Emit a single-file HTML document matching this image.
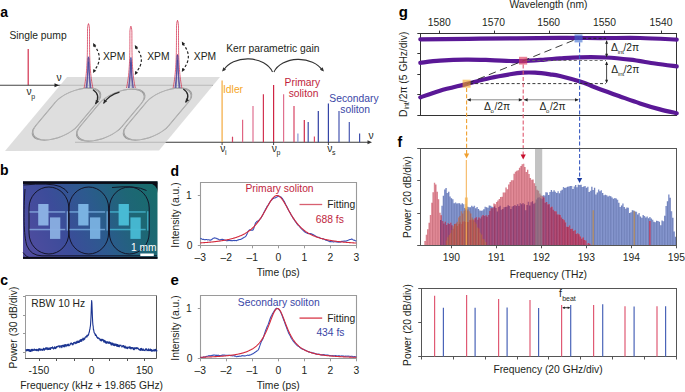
<!DOCTYPE html>
<html><head><meta charset="utf-8"><style>
html,body{margin:0;padding:0;background:#fff;}
svg{display:block;font-family:"Liberation Sans",sans-serif;}
</style></head><body>
<svg width="685" height="392" viewBox="0 0 685 392">
<rect width="685" height="392" fill="#fff"/>
<text x="0.3" y="16.6" font-size="14" fill="#000" text-anchor="start" font-weight="bold" >a</text>
<text x="9.4" y="38.8" font-size="10.3" fill="#231f20" text-anchor="start" font-weight="normal" >Single pump</text>
<line x1="28.2" y1="49" x2="28.2" y2="85.2" stroke="#d22f4d" stroke-width="1.2" />
<line x1="0" y1="85.2" x2="213" y2="85.2" stroke="#444" stroke-width="1.1" />
<polygon points="59,85.2 54.5,87.23 54.5,83.17" fill="#222"/>
<text x="56.6" y="81.3" font-size="10.3" fill="#231f20" text-anchor="start" font-weight="normal" >ν</text>
<text x="26.6" y="94.6" font-size="10.3" fill="#231f20" text-anchor="start" font-weight="normal" >ν</text>
<text x="31.3" y="98.5" font-size="7" fill="#231f20" text-anchor="start" font-weight="normal" >p</text>
<line x1="75" y1="142.2" x2="369" y2="142.2" stroke="#3a3a3a" stroke-width="1.1" />
<polygon points="67,77 220,77 159,150.6 5,151" fill="#d6d6d6" fill-opacity="0.8"/>
<path d="M9.5,25.5 L9.5,48.5 A21 14.5 0 0 0 51.5,48.5 L51.5,25.5 A21 14.5 0 0 0 9.5,25.5 Z" transform="matrix(1,0,-0.838,1,67,77)" fill="none" stroke="#8c8c8c" stroke-width="1.25"/>
<path d="M9.5,25.5 L9.5,48.5 A21 14.5 0 0 0 51.5,48.5 L51.5,25.5 A21 14.5 0 0 0 9.5,25.5 Z" transform="matrix(1,0,-0.838,1,67,77)" fill="none" stroke="#d8d8d8" stroke-width="0.4"/>
<path d="M54.5,26.5 L54.5,49.5 A21 14.5 0 0 0 96.5,49.5 L96.5,26.5 A21 14.5 0 0 0 54.5,26.5 Z" transform="matrix(1,0,-0.838,1,67,77)" fill="none" stroke="#8c8c8c" stroke-width="1.25"/>
<path d="M54.5,26.5 L54.5,49.5 A21 14.5 0 0 0 96.5,49.5 L96.5,26.5 A21 14.5 0 0 0 54.5,26.5 Z" transform="matrix(1,0,-0.838,1,67,77)" fill="none" stroke="#d8d8d8" stroke-width="0.4"/>
<path d="M100.5,25.5 L100.5,48.5 A21 14.5 0 0 0 142.5,48.5 L142.5,25.5 A21 14.5 0 0 0 100.5,25.5 Z" transform="matrix(1,0,-0.838,1,67,77)" fill="none" stroke="#8c8c8c" stroke-width="1.25"/>
<path d="M100.5,25.5 L100.5,48.5 A21 14.5 0 0 0 142.5,48.5 L142.5,25.5 A21 14.5 0 0 0 100.5,25.5 Z" transform="matrix(1,0,-0.838,1,67,77)" fill="none" stroke="#d8d8d8" stroke-width="0.4"/>
<path d="M84.1,88 L84.43,86.39 L84.73,84.78 L85.01,83.17 L85.27,81.56 L85.51,79.95 L85.73,78.34 L85.92,76.73 L86.11,75.12 L86.27,73.51 L86.42,71.9 L86.56,70.29 L86.68,68.68 L86.79,67.07 L86.89,65.46 L86.98,63.85 L87.06,62.24 L87.13,60.63 L87.19,59.02 L87.24,57.41 L87.29,55.8 L87.33,54.19 L87.36,52.58 L87.39,50.97 L87.41,49.36 L87.43,47.75 L87.45,46.14 L87.46,44.53 L87.47,42.92 L87.48,41.31 L87.49,39.7 L87.49,38.09 L87.49,36.48 L87.5,34.87 L87.5,33.26 L87.5,31.65 L87.5,30.04 L87.55,28.43 L87.73,26.82 L87.95,25.21 L88.5,23.6 L88.5,23.6 L89.05,25.21 L89.27,26.82 L89.45,28.43 L89.5,30.04 L89.5,31.65 L89.5,33.26 L89.5,34.87 L89.51,36.48 L89.51,38.09 L89.51,39.7 L89.52,41.31 L89.53,42.92 L89.54,44.53 L89.55,46.14 L89.57,47.75 L89.59,49.36 L89.61,50.97 L89.64,52.58 L89.67,54.19 L89.71,55.8 L89.76,57.41 L89.81,59.02 L89.87,60.63 L89.94,62.24 L90.02,63.85 L90.11,65.46 L90.21,67.07 L90.32,68.68 L90.44,70.29 L90.58,71.9 L90.73,73.51 L90.89,75.12 L91.08,76.73 L91.27,78.34 L91.49,79.95 L91.73,81.56 L91.99,83.17 L92.27,84.78 L92.57,86.39 L92.9,88" stroke="#d22f4d" stroke-width="0.75" fill="none" stroke-linejoin="round"/>
<path d="M86.2,88 L86.32,87.24 L86.44,86.48 L86.55,85.72 L86.66,84.96 L86.77,84.2 L86.87,83.44 L86.96,82.68 L87.06,81.92 L87.14,81.16 L87.23,80.4 L87.3,79.64 L87.38,78.88 L87.45,78.12 L87.52,77.36 L87.58,76.6 L87.64,75.84 L87.7,75.08 L87.75,74.32 L87.8,73.56 L87.85,72.8 L87.89,72.04 L87.93,71.28 L87.96,70.52 L88,69.76 L88.03,69 L88.06,68.24 L88.08,67.48 L88.1,66.72 L88.12,65.96 L88.14,65.2 L88.15,64.44 L88.16,63.68 L88.17,62.92 L88.18,62.16 L88.19,61.4 L88.19,60.64 L88.21,59.88 L88.27,59.12 L88.34,58.36 L88.5,57.6 L88.5,57.6 L88.66,58.36 L88.73,59.12 L88.79,59.88 L88.81,60.64 L88.81,61.4 L88.82,62.16 L88.83,62.92 L88.84,63.68 L88.85,64.44 L88.86,65.2 L88.88,65.96 L88.9,66.72 L88.92,67.48 L88.94,68.24 L88.97,69 L89,69.76 L89.04,70.52 L89.07,71.28 L89.11,72.04 L89.15,72.8 L89.2,73.56 L89.25,74.32 L89.3,75.08 L89.36,75.84 L89.42,76.6 L89.48,77.36 L89.55,78.12 L89.62,78.88 L89.7,79.64 L89.77,80.4 L89.86,81.16 L89.94,81.92 L90.04,82.68 L90.13,83.44 L90.23,84.2 L90.34,84.96 L90.45,85.72 L90.56,86.48 L90.68,87.24 L90.8,88" stroke="#d22f4d" stroke-width="0.55" fill="none" stroke-linejoin="round"/>
<path d="M86.1,88 L86.2,87.22 L86.3,86.44 L86.4,85.66 L86.49,84.88 L86.58,84.1 L86.67,83.32 L86.76,82.54 L86.84,81.76 L86.92,80.98 L86.99,80.2 L87.06,79.42 L87.13,78.64 L87.2,77.86 L87.26,77.08 L87.32,76.3 L87.38,75.52 L87.44,74.74 L87.49,73.96 L87.54,73.18 L87.59,72.4 L87.63,71.62 L87.67,70.84 L87.71,70.06 L87.75,69.28 L87.78,68.5 L87.81,67.72 L87.84,66.94 L87.87,66.16 L87.89,65.38 L87.91,64.6 L87.93,63.82 L87.94,63.04 L87.96,62.26 L87.97,61.48 L87.98,60.7 L87.99,59.92 L88.02,59.14 L88.11,58.36 L88.23,57.58 L88.5,56.8 L88.5,56.8 L88.77,57.58 L88.89,58.36 L88.98,59.14 L89.01,59.92 L89.02,60.7 L89.03,61.48 L89.04,62.26 L89.06,63.04 L89.07,63.82 L89.09,64.6 L89.11,65.38 L89.13,66.16 L89.16,66.94 L89.19,67.72 L89.22,68.5 L89.25,69.28 L89.29,70.06 L89.33,70.84 L89.37,71.62 L89.41,72.4 L89.46,73.18 L89.51,73.96 L89.56,74.74 L89.62,75.52 L89.68,76.3 L89.74,77.08 L89.8,77.86 L89.87,78.64 L89.94,79.42 L90.01,80.2 L90.08,80.98 L90.16,81.76 L90.24,82.54 L90.33,83.32 L90.42,84.1 L90.51,84.88 L90.6,85.66 L90.7,86.44 L90.8,87.22 L90.9,88" stroke="#2f3f9f" stroke-width="0.85" fill="none" stroke-linejoin="round"/>
<path d="M87.2,88 L87.24,87.34 L87.27,86.69 L87.31,86.03 L87.35,85.38 L87.38,84.72 L87.42,84.07 L87.45,83.41 L87.48,82.76 L87.52,82.1 L87.55,81.45 L87.58,80.8 L87.61,80.14 L87.65,79.48 L87.68,78.83 L87.71,78.17 L87.74,77.52 L87.76,76.86 L87.79,76.21 L87.82,75.55 L87.85,74.9 L87.87,74.25 L87.9,73.59 L87.92,72.94 L87.95,72.28 L87.97,71.62 L87.99,70.97 L88.01,70.31 L88.04,69.66 L88.06,69 L88.08,68.35 L88.09,67.69 L88.11,67.04 L88.13,66.38 L88.14,65.73 L88.16,65.08 L88.17,64.42 L88.19,63.77 L88.26,63.11 L88.33,62.45 L88.5,61.8 L88.5,61.8 L88.67,62.45 L88.74,63.11 L88.81,63.77 L88.83,64.42 L88.84,65.08 L88.86,65.73 L88.87,66.38 L88.89,67.04 L88.91,67.69 L88.92,68.35 L88.94,69 L88.96,69.66 L88.99,70.31 L89.01,70.97 L89.03,71.62 L89.05,72.28 L89.08,72.94 L89.1,73.59 L89.13,74.25 L89.15,74.9 L89.18,75.55 L89.21,76.21 L89.24,76.86 L89.26,77.52 L89.29,78.17 L89.32,78.83 L89.35,79.48 L89.39,80.14 L89.42,80.8 L89.45,81.45 L89.48,82.1 L89.52,82.76 L89.55,83.41 L89.58,84.07 L89.62,84.72 L89.65,85.38 L89.69,86.03 L89.73,86.69 L89.76,87.34 L89.8,88" stroke="#2f3f9f" stroke-width="0.6" fill="none" stroke-linejoin="round"/>
<path d="M126.5,88 L126.83,86.45 L127.13,84.91 L127.41,83.36 L127.67,81.82 L127.91,80.28 L128.13,78.73 L128.32,77.19 L128.51,75.64 L128.67,74.09 L128.82,72.55 L128.96,71 L129.08,69.46 L129.19,67.91 L129.29,66.37 L129.38,64.83 L129.46,63.28 L129.53,61.73 L129.59,60.19 L129.64,58.64 L129.69,57.1 L129.73,55.55 L129.76,54.01 L129.79,52.46 L129.81,50.92 L129.83,49.38 L129.85,47.83 L129.86,46.28 L129.87,44.74 L129.88,43.19 L129.89,41.65 L129.89,40.1 L129.89,38.56 L129.9,37.02 L129.9,35.47 L129.9,33.92 L129.9,32.38 L129.95,30.84 L130.13,29.29 L130.35,27.74 L130.9,26.2 L130.9,26.2 L131.45,27.74 L131.67,29.29 L131.85,30.84 L131.9,32.38 L131.9,33.92 L131.9,35.47 L131.9,37.02 L131.91,38.56 L131.91,40.1 L131.91,41.65 L131.92,43.19 L131.93,44.74 L131.94,46.28 L131.95,47.83 L131.97,49.38 L131.99,50.92 L132.01,52.46 L132.04,54.01 L132.07,55.55 L132.11,57.1 L132.16,58.64 L132.21,60.19 L132.27,61.73 L132.34,63.28 L132.42,64.83 L132.51,66.37 L132.61,67.91 L132.72,69.46 L132.84,71 L132.98,72.55 L133.13,74.09 L133.29,75.64 L133.48,77.19 L133.67,78.73 L133.89,80.28 L134.13,81.82 L134.39,83.36 L134.67,84.91 L134.97,86.45 L135.3,88" stroke="#d22f4d" stroke-width="0.75" fill="none" stroke-linejoin="round"/>
<path d="M128.6,88 L128.72,87.31 L128.84,86.61 L128.95,85.91 L129.06,85.22 L129.17,84.53 L129.27,83.83 L129.36,83.13 L129.46,82.44 L129.54,81.75 L129.63,81.05 L129.7,80.36 L129.78,79.66 L129.85,78.97 L129.92,78.27 L129.98,77.58 L130.04,76.88 L130.1,76.19 L130.15,75.49 L130.2,74.8 L130.25,74.1 L130.29,73.41 L130.33,72.71 L130.36,72.02 L130.4,71.32 L130.43,70.62 L130.46,69.93 L130.48,69.23 L130.5,68.54 L130.52,67.84 L130.54,67.15 L130.55,66.45 L130.56,65.76 L130.57,65.06 L130.58,64.37 L130.59,63.68 L130.59,62.98 L130.61,62.29 L130.67,61.59 L130.74,60.9 L130.9,60.2 L130.9,60.2 L131.06,60.9 L131.13,61.59 L131.19,62.29 L131.21,62.98 L131.21,63.68 L131.22,64.37 L131.23,65.06 L131.24,65.76 L131.25,66.45 L131.26,67.15 L131.28,67.84 L131.3,68.54 L131.32,69.23 L131.34,69.93 L131.37,70.62 L131.4,71.32 L131.44,72.02 L131.47,72.71 L131.51,73.41 L131.55,74.1 L131.6,74.8 L131.65,75.49 L131.7,76.19 L131.76,76.88 L131.82,77.58 L131.88,78.27 L131.95,78.97 L132.02,79.66 L132.1,80.36 L132.17,81.05 L132.26,81.75 L132.34,82.44 L132.44,83.13 L132.53,83.83 L132.63,84.53 L132.74,85.22 L132.85,85.91 L132.96,86.61 L133.08,87.31 L133.2,88" stroke="#d22f4d" stroke-width="0.55" fill="none" stroke-linejoin="round"/>
<path d="M128.5,88 L128.6,87.24 L128.7,86.47 L128.8,85.71 L128.89,84.95 L128.98,84.19 L129.07,83.42 L129.16,82.66 L129.24,81.9 L129.32,81.14 L129.39,80.38 L129.46,79.61 L129.53,78.85 L129.6,78.09 L129.66,77.33 L129.72,76.56 L129.78,75.8 L129.84,75.04 L129.89,74.28 L129.94,73.51 L129.99,72.75 L130.03,71.99 L130.07,71.22 L130.11,70.46 L130.15,69.7 L130.18,68.94 L130.21,68.17 L130.24,67.41 L130.27,66.65 L130.29,65.89 L130.31,65.12 L130.33,64.36 L130.34,63.6 L130.36,62.84 L130.37,62.08 L130.38,61.31 L130.39,60.55 L130.42,59.79 L130.51,59.02 L130.63,58.26 L130.9,57.5 L130.9,57.5 L131.17,58.26 L131.29,59.02 L131.38,59.79 L131.41,60.55 L131.42,61.31 L131.43,62.08 L131.44,62.84 L131.46,63.6 L131.47,64.36 L131.49,65.12 L131.51,65.89 L131.53,66.65 L131.56,67.41 L131.59,68.17 L131.62,68.94 L131.65,69.7 L131.69,70.46 L131.73,71.22 L131.77,71.99 L131.81,72.75 L131.86,73.51 L131.91,74.28 L131.96,75.04 L132.02,75.8 L132.08,76.56 L132.14,77.33 L132.2,78.09 L132.27,78.85 L132.34,79.61 L132.41,80.38 L132.48,81.14 L132.56,81.9 L132.64,82.66 L132.73,83.42 L132.82,84.19 L132.91,84.95 L133,85.71 L133.1,86.47 L133.2,87.24 L133.3,88" stroke="#2f3f9f" stroke-width="0.85" fill="none" stroke-linejoin="round"/>
<path d="M129.6,88 L129.64,87.36 L129.67,86.72 L129.71,86.09 L129.75,85.45 L129.78,84.81 L129.82,84.17 L129.85,83.54 L129.88,82.9 L129.92,82.26 L129.95,81.62 L129.98,80.99 L130.01,80.35 L130.05,79.71 L130.08,79.08 L130.11,78.44 L130.14,77.8 L130.16,77.16 L130.19,76.53 L130.22,75.89 L130.25,75.25 L130.27,74.61 L130.3,73.97 L130.32,73.34 L130.35,72.7 L130.37,72.06 L130.39,71.42 L130.41,70.79 L130.44,70.15 L130.46,69.51 L130.47,68.88 L130.49,68.24 L130.51,67.6 L130.53,66.96 L130.54,66.33 L130.56,65.69 L130.57,65.05 L130.59,64.41 L130.66,63.77 L130.73,63.14 L130.9,62.5 L130.9,62.5 L131.07,63.14 L131.14,63.77 L131.21,64.41 L131.23,65.05 L131.24,65.69 L131.26,66.33 L131.27,66.96 L131.29,67.6 L131.31,68.24 L131.33,68.88 L131.34,69.51 L131.36,70.15 L131.39,70.79 L131.41,71.42 L131.43,72.06 L131.45,72.7 L131.48,73.34 L131.5,73.97 L131.53,74.61 L131.55,75.25 L131.58,75.89 L131.61,76.53 L131.64,77.16 L131.66,77.8 L131.69,78.44 L131.72,79.08 L131.75,79.71 L131.79,80.35 L131.82,80.99 L131.85,81.62 L131.88,82.26 L131.92,82.9 L131.95,83.54 L131.98,84.17 L132.02,84.81 L132.05,85.45 L132.09,86.09 L132.13,86.72 L132.16,87.36 L132.2,88" stroke="#2f3f9f" stroke-width="0.6" fill="none" stroke-linejoin="round"/>
<path d="M173.1,88 L173.43,86.31 L173.73,84.61 L174.01,82.92 L174.27,81.23 L174.51,79.54 L174.73,77.84 L174.92,76.15 L175.11,74.46 L175.27,72.77 L175.42,71.08 L175.56,69.38 L175.68,67.69 L175.79,66 L175.89,64.31 L175.98,62.61 L176.06,60.92 L176.13,59.23 L176.19,57.53 L176.24,55.84 L176.29,54.15 L176.33,52.46 L176.36,50.77 L176.39,49.07 L176.41,47.38 L176.43,45.69 L176.45,44 L176.46,42.3 L176.47,40.61 L176.48,38.92 L176.49,37.23 L176.49,35.53 L176.49,33.84 L176.5,32.15 L176.5,30.46 L176.5,28.76 L176.5,27.07 L176.55,25.38 L176.73,23.69 L176.95,21.99 L177.5,20.3 L177.5,20.3 L178.05,21.99 L178.27,23.69 L178.45,25.38 L178.5,27.07 L178.5,28.76 L178.5,30.46 L178.5,32.15 L178.51,33.84 L178.51,35.53 L178.51,37.23 L178.52,38.92 L178.53,40.61 L178.54,42.3 L178.55,44 L178.57,45.69 L178.59,47.38 L178.61,49.07 L178.64,50.77 L178.67,52.46 L178.71,54.15 L178.76,55.84 L178.81,57.53 L178.87,59.23 L178.94,60.92 L179.02,62.61 L179.11,64.31 L179.21,66 L179.32,67.69 L179.44,69.38 L179.58,71.08 L179.73,72.77 L179.89,74.46 L180.08,76.15 L180.27,77.84 L180.49,79.54 L180.73,81.23 L180.99,82.92 L181.27,84.61 L181.57,86.31 L181.9,88" stroke="#d22f4d" stroke-width="0.75" fill="none" stroke-linejoin="round"/>
<path d="M175.2,88 L175.32,87.16 L175.44,86.31 L175.55,85.47 L175.66,84.63 L175.77,83.79 L175.87,82.94 L175.96,82.1 L176.06,81.26 L176.14,80.42 L176.23,79.58 L176.3,78.73 L176.38,77.89 L176.45,77.05 L176.52,76.2 L176.58,75.36 L176.64,74.52 L176.7,73.68 L176.75,72.84 L176.8,71.99 L176.85,71.15 L176.89,70.31 L176.93,69.47 L176.96,68.62 L177,67.78 L177.03,66.94 L177.06,66.09 L177.08,65.25 L177.1,64.41 L177.12,63.57 L177.14,62.72 L177.15,61.88 L177.16,61.04 L177.17,60.2 L177.18,59.35 L177.19,58.51 L177.19,57.67 L177.21,56.83 L177.27,55.98 L177.34,55.14 L177.5,54.3 L177.5,54.3 L177.66,55.14 L177.73,55.98 L177.79,56.83 L177.81,57.67 L177.81,58.51 L177.82,59.35 L177.83,60.2 L177.84,61.04 L177.85,61.88 L177.86,62.72 L177.88,63.57 L177.9,64.41 L177.92,65.25 L177.94,66.09 L177.97,66.94 L178,67.78 L178.04,68.62 L178.07,69.47 L178.11,70.31 L178.15,71.15 L178.2,71.99 L178.25,72.84 L178.3,73.68 L178.36,74.52 L178.42,75.36 L178.48,76.2 L178.55,77.05 L178.62,77.89 L178.7,78.73 L178.77,79.58 L178.86,80.42 L178.94,81.26 L179.04,82.1 L179.13,82.94 L179.23,83.79 L179.34,84.63 L179.45,85.47 L179.56,86.31 L179.68,87.16 L179.8,88" stroke="#d22f4d" stroke-width="0.55" fill="none" stroke-linejoin="round"/>
<path d="M175.1,88 L175.2,87.17 L175.3,86.34 L175.4,85.51 L175.49,84.68 L175.58,83.85 L175.67,83.02 L175.76,82.19 L175.84,81.36 L175.92,80.53 L175.99,79.7 L176.06,78.87 L176.13,78.04 L176.2,77.21 L176.26,76.38 L176.32,75.55 L176.38,74.72 L176.44,73.89 L176.49,73.06 L176.54,72.23 L176.59,71.4 L176.63,70.57 L176.67,69.74 L176.71,68.91 L176.75,68.08 L176.78,67.25 L176.81,66.42 L176.84,65.59 L176.87,64.76 L176.89,63.93 L176.91,63.1 L176.93,62.27 L176.94,61.44 L176.96,60.61 L176.97,59.78 L176.98,58.95 L176.99,58.12 L177.02,57.29 L177.11,56.46 L177.23,55.63 L177.5,54.8 L177.5,54.8 L177.77,55.63 L177.89,56.46 L177.98,57.29 L178.01,58.12 L178.02,58.95 L178.03,59.78 L178.04,60.61 L178.06,61.44 L178.07,62.27 L178.09,63.1 L178.11,63.93 L178.13,64.76 L178.16,65.59 L178.19,66.42 L178.22,67.25 L178.25,68.08 L178.29,68.91 L178.33,69.74 L178.37,70.57 L178.41,71.4 L178.46,72.23 L178.51,73.06 L178.56,73.89 L178.62,74.72 L178.68,75.55 L178.74,76.38 L178.8,77.21 L178.87,78.04 L178.94,78.87 L179.01,79.7 L179.08,80.53 L179.16,81.36 L179.24,82.19 L179.33,83.02 L179.42,83.85 L179.51,84.68 L179.6,85.51 L179.7,86.34 L179.8,87.17 L179.9,88" stroke="#2f3f9f" stroke-width="0.85" fill="none" stroke-linejoin="round"/>
<path d="M176.2,88 L176.24,87.3 L176.27,86.59 L176.31,85.88 L176.35,85.18 L176.38,84.47 L176.42,83.77 L176.45,83.06 L176.48,82.36 L176.52,81.66 L176.55,80.95 L176.58,80.25 L176.61,79.54 L176.65,78.84 L176.68,78.13 L176.71,77.42 L176.74,76.72 L176.76,76.02 L176.79,75.31 L176.82,74.61 L176.85,73.9 L176.87,73.19 L176.9,72.49 L176.92,71.78 L176.95,71.08 L176.97,70.38 L176.99,69.67 L177.01,68.97 L177.04,68.26 L177.06,67.55 L177.07,66.85 L177.09,66.14 L177.11,65.44 L177.13,64.73 L177.14,64.03 L177.16,63.32 L177.17,62.62 L177.19,61.91 L177.26,61.21 L177.33,60.5 L177.5,59.8 L177.5,59.8 L177.67,60.5 L177.74,61.21 L177.81,61.91 L177.83,62.62 L177.84,63.32 L177.86,64.03 L177.87,64.73 L177.89,65.44 L177.91,66.14 L177.93,66.85 L177.94,67.55 L177.96,68.26 L177.99,68.97 L178.01,69.67 L178.03,70.38 L178.05,71.08 L178.08,71.78 L178.1,72.49 L178.13,73.19 L178.15,73.9 L178.18,74.61 L178.21,75.31 L178.24,76.02 L178.26,76.72 L178.29,77.42 L178.32,78.13 L178.35,78.84 L178.39,79.54 L178.42,80.25 L178.45,80.95 L178.48,81.66 L178.52,82.36 L178.55,83.06 L178.58,83.77 L178.62,84.47 L178.65,85.18 L178.69,85.88 L178.73,86.59 L178.76,87.3 L178.8,88" stroke="#2f3f9f" stroke-width="0.6" fill="none" stroke-linejoin="round"/>
<path d="M93.8,45 Q104.8,58.0 93.8,71" fill="none" stroke="#222" stroke-width="1.2" stroke-dasharray="2.6,2"/>
<polygon points="93,43 96.31,45.21 93.39,46.96" fill="#222"/>
<polygon points="93,73 93.39,69.04 96.31,70.79" fill="#222"/>
<path d="M135.6,47 Q147.1,60.0 135.6,73" fill="none" stroke="#222" stroke-width="1.2" stroke-dasharray="2.6,2"/>
<polygon points="134.8,45 138.11,47.21 135.19,48.96" fill="#222"/>
<polygon points="134.8,75 135.19,71.04 138.11,72.79" fill="#222"/>
<path d="M182.6,43.5 Q194.1,56.75 182.6,70" fill="none" stroke="#222" stroke-width="1.2" stroke-dasharray="2.6,2"/>
<polygon points="181.8,41.5 185.11,43.71 182.19,45.46" fill="#222"/>
<polygon points="181.8,72 182.19,68.04 185.11,69.79" fill="#222"/>
<text x="103" y="59.5" font-size="10.3" fill="#231f20" text-anchor="start" font-weight="normal" >XPM</text>
<text x="147.2" y="59.5" font-size="10.3" fill="#231f20" text-anchor="start" font-weight="normal" >XPM</text>
<text x="193.8" y="59.5" font-size="10.3" fill="#231f20" text-anchor="start" font-weight="normal" >XPM</text>
<path d="M93,89.8 Q101,95 95.5,104" fill="none" stroke="#2a2a2a" stroke-width="1.3"/>
<polygon points="95.5,104 95.86,99.77 99.1,101.75" fill="#2a2a2a"/>
<path d="M119.5,92.2 Q109,95 103.5,103.5" fill="none" stroke="#2a2a2a" stroke-width="1.3"/>
<polygon points="103.5,103.5 103.97,99.28 107.16,101.34" fill="#2a2a2a"/>
<path d="M183.3,89 Q191,94 185.6,102.5" fill="none" stroke="#2a2a2a" stroke-width="1.3"/>
<polygon points="185.6,102.5 186.03,98.27 189.24,100.31" fill="#2a2a2a"/>
<path d="M272.5,72 A26 18.5 0 0 0 223.5,70.5" fill="none" stroke="#333" stroke-width="1.1"/>
<polygon points="222,71.5 223.36,67.33 226.02,69.75" fill="#333"/>
<path d="M274,72 A26 18.5 0 0 1 322.5,70.5" fill="none" stroke="#333" stroke-width="1.1"/>
<polygon points="324,71.5 319.98,69.75 322.64,67.33" fill="#333"/>
<text x="226.2" y="52" font-size="10.3" fill="#231f20" text-anchor="start" font-weight="normal" >Kerr parametric gain</text>
<line x1="222.1" y1="80.4" x2="222.1" y2="142.2" stroke="#f4b04c" stroke-width="1.3" />
<line x1="232.5" y1="136.7" x2="232.5" y2="142.2" stroke="#d44462" stroke-width="1.2" />
<line x1="242.6" y1="119.8" x2="242.6" y2="142.2" stroke="#e06482" stroke-width="1.2" />
<line x1="253" y1="106" x2="253" y2="142.2" stroke="#e07090" stroke-width="1.2" />
<line x1="263.4" y1="94.3" x2="263.4" y2="142.2" stroke="#d23452" stroke-width="1.2" />
<line x1="273.6" y1="84.9" x2="273.6" y2="142.2" stroke="#cf2444" stroke-width="1.2" />
<line x1="283.6" y1="94.3" x2="283.6" y2="142.2" stroke="#e0708e" stroke-width="1.2" />
<line x1="294" y1="106" x2="294" y2="142.2" stroke="#d84464" stroke-width="1.2" />
<line x1="304.3" y1="120" x2="304.3" y2="142.2" stroke="#d02a4a" stroke-width="1.2" />
<line x1="314.4" y1="136.4" x2="314.4" y2="142.2" stroke="#e04a66" stroke-width="1.2" />
<line x1="297.9" y1="133.4" x2="297.9" y2="142.2" stroke="#8a98d4" stroke-width="1.2" />
<line x1="308.2" y1="122" x2="308.2" y2="142.2" stroke="#3e4eaa" stroke-width="1.2" />
<line x1="318.3" y1="111" x2="318.3" y2="142.2" stroke="#2e3ea2" stroke-width="1.2" />
<line x1="328.4" y1="103.6" x2="328.4" y2="142.2" stroke="#3444a6" stroke-width="1.2" />
<line x1="339" y1="111" x2="339" y2="142.2" stroke="#4656b0" stroke-width="1.2" />
<line x1="349.3" y1="122" x2="349.3" y2="142.2" stroke="#4a5ab2" stroke-width="1.2" />
<line x1="359.6" y1="133.4" x2="359.6" y2="142.2" stroke="#3e4eaa" stroke-width="1.2" />
<line x1="222.1" y1="142.2" x2="222.1" y2="145" stroke="#333" stroke-width="0.9" />
<line x1="273.6" y1="142.2" x2="273.6" y2="145" stroke="#333" stroke-width="0.9" />
<line x1="328.4" y1="142.2" x2="328.4" y2="145" stroke="#333" stroke-width="0.9" />
<polygon points="372,142.2 367.5,144.22 367.5,140.17" fill="#333"/>
<text x="368.6" y="138.8" font-size="10.3" fill="#231f20" text-anchor="start" font-weight="normal" >ν</text>
<text x="220.2" y="152.2" font-size="10.3" fill="#231f20" text-anchor="start" font-weight="normal" >ν</text>
<text x="224.9" y="155" font-size="7" fill="#231f20" text-anchor="start" font-weight="normal" >i</text>
<text x="271.8" y="152.2" font-size="10.3" fill="#231f20" text-anchor="start" font-weight="normal" >ν</text>
<text x="276.5" y="155" font-size="7" fill="#231f20" text-anchor="start" font-weight="normal" >p</text>
<text x="327.2" y="152.2" font-size="10.3" fill="#231f20" text-anchor="start" font-weight="normal" >ν</text>
<text x="331.9" y="155" font-size="7" fill="#231f20" text-anchor="start" font-weight="normal" >s</text>
<text x="223" y="92.6" font-size="10.3" fill="#f5a623" text-anchor="start" font-weight="normal" >Idler</text>
<text x="284.6" y="85.7" font-size="10.3" fill="#c01e3c" text-anchor="start" font-weight="normal" >Primary</text>
<text x="303.6" y="96.8" font-size="10.3" fill="#c01e3c" text-anchor="middle" font-weight="normal" >soliton</text>
<text x="329.3" y="101.7" font-size="10.3" fill="#3a46a6" text-anchor="start" font-weight="normal" >Secondary</text>
<text x="355.2" y="113.2" font-size="10.3" fill="#3a46a6" text-anchor="middle" font-weight="normal" >soliton</text>
<text x="0" y="175.3" font-size="14" fill="#000" text-anchor="start" font-weight="bold" >b</text>
<defs><linearGradient id="gb" gradientUnits="userSpaceOnUse" x1="23" y1="250" x2="157" y2="195">
<stop offset="0" stop-color="#524ca0"/><stop offset="0.3" stop-color="#3c4c9a"/><stop offset="0.55" stop-color="#2c5a8e"/><stop offset="0.8" stop-color="#1e6676"/><stop offset="1" stop-color="#186c6c"/></linearGradient></defs>
<rect x="23" y="181.5" width="134.5" height="77" fill="url(#gb)"/>
<rect x="23" y="181.3" width="134.5" height="2.6" fill="#0a0a14"/>
<rect x="23" y="256.9" width="134.5" height="2" fill="#0a0a14"/>
<path d="M148,183.5 L157.5,183.5 L157.5,193 Q157.5,183.5 148,183.5 Z" fill="#0a0a14"/>
<path d="M23.5,185 Q50,182.5 60,186.5 Q66,189 68,193 M25,189 C23.5,210 23.5,236 27,246 Q31,255.6 42,255.8 L157,255.8 M23,252.5 Q26,257 30,258 M112,187.5 Q136,185 146.5,190.5" fill="none" stroke="#101020" stroke-width="0.9"/>
<rect x="29" y="187" width="39.8" height="67" rx="19.9" ry="21" fill="none" stroke="#141428" stroke-width="1"/>
<rect x="29.5" y="211.2" width="35.8" height="1.5" fill="#8aafe2" fill-opacity="0.8"/>
<rect x="29.5" y="228.8" width="35.8" height="1.5" fill="#8aafe2" fill-opacity="0.8"/>
<rect x="66.7" y="211.2" width="1.3" height="19.4" fill="#8aafe2" fill-opacity="0.8"/>
<rect x="38.2" y="204" width="10.3" height="21.5" fill="#8aafe2"/>
<rect x="50" y="217.4" width="10.3" height="21.5" fill="#8aafe2" fill-opacity="0.95"/>
<rect x="69" y="187" width="39.6" height="67" rx="19.8" ry="21" fill="none" stroke="#141428" stroke-width="1"/>
<rect x="69.5" y="211.2" width="35.6" height="1.5" fill="#7ab2e2" fill-opacity="0.8"/>
<rect x="69.5" y="228.8" width="35.6" height="1.5" fill="#7ab2e2" fill-opacity="0.8"/>
<rect x="106.5" y="211.2" width="1.3" height="19.4" fill="#7ab2e2" fill-opacity="0.8"/>
<rect x="78.2" y="204" width="10.3" height="21.5" fill="#7ab2e2"/>
<rect x="90" y="217.4" width="10.3" height="21.5" fill="#7ab2e2" fill-opacity="0.95"/>
<rect x="109.4" y="187" width="39.8" height="67" rx="19.9" ry="21" fill="none" stroke="#141428" stroke-width="1"/>
<rect x="109.9" y="211.2" width="35.8" height="1.5" fill="#48bad4" fill-opacity="0.8"/>
<rect x="109.9" y="228.8" width="35.8" height="1.5" fill="#48bad4" fill-opacity="0.8"/>
<rect x="147.1" y="211.2" width="1.3" height="19.4" fill="#48bad4" fill-opacity="0.8"/>
<rect x="118.6" y="204" width="10.3" height="21.5" fill="#48bad4"/>
<rect x="130.4" y="217.4" width="10.3" height="21.5" fill="#48bad4" fill-opacity="0.95"/>
<text x="131.1" y="251.4" font-size="10.2" fill="#ffffff" text-anchor="start" font-weight="normal" >1 mm</text>
<rect x="140.3" y="253.5" width="13.5" height="2.6" fill="#ffffff"/>
<text x="0.3" y="285" font-size="14" fill="#000" text-anchor="start" font-weight="bold" >c</text>
<path d="M25.5,295.5 L156.5,295.5 M25.5,295.5 L25.5,358.5" fill="none" stroke="#9a9a9a" stroke-width="1"/>
<path d="M25,358.5 L156.5,358.5 L156.5,295.5" fill="none" stroke="#555" stroke-width="1"/>
<line x1="23" y1="296.5" x2="25.5" y2="296.5" stroke="#9a9a9a" stroke-width="1" />
<line x1="23" y1="315.5" x2="25.5" y2="315.5" stroke="#9a9a9a" stroke-width="1" />
<line x1="23" y1="333.5" x2="25.5" y2="333.5" stroke="#9a9a9a" stroke-width="1" />
<line x1="23" y1="352.5" x2="25.5" y2="352.5" stroke="#9a9a9a" stroke-width="1" />
<line x1="39.5" y1="358.5" x2="39.5" y2="361" stroke="#555" stroke-width="1" />
<line x1="56.5" y1="358.5" x2="56.5" y2="361" stroke="#555" stroke-width="1" />
<line x1="74.5" y1="358.5" x2="74.5" y2="361" stroke="#555" stroke-width="1" />
<line x1="92.5" y1="358.5" x2="92.5" y2="361" stroke="#555" stroke-width="1" />
<line x1="109.5" y1="358.5" x2="109.5" y2="361" stroke="#555" stroke-width="1" />
<line x1="127.5" y1="358.5" x2="127.5" y2="361" stroke="#555" stroke-width="1" />
<line x1="144.5" y1="358.5" x2="144.5" y2="361" stroke="#555" stroke-width="1" />
<text x="38.9" y="373.5" font-size="10.3" fill="#231f20" text-anchor="middle" font-weight="normal" >-150</text>
<text x="91.7" y="373.5" font-size="10.3" fill="#231f20" text-anchor="middle" font-weight="normal" >0</text>
<text x="144.5" y="373.5" font-size="10.3" fill="#231f20" text-anchor="middle" font-weight="normal" >150</text>
<text x="20.2" y="388.8" font-size="10.3" fill="#231f20" text-anchor="start" font-weight="normal" >Frequency (kHz + 19.865 GHz)</text>
<text x="31.3" y="306.8" font-size="10.3" fill="#231f20" text-anchor="start" font-weight="normal" >RBW 10 Hz</text>
<text x="0" y="0" font-size="10.3" fill="#231f20" text-anchor="middle" font-weight="normal" transform="translate(17.2,327.5) rotate(-90)">Power (30 dB/div)</text>
<path d="M25.8,350.24 L26.05,349.81 L26.3,350.99 L26.56,349.59 L26.81,350.69 L27.06,350.26 L27.31,349.51 L27.57,350.57 L27.82,349.43 L28.07,350.36 L28.32,349.47 L28.58,349.51 L28.83,350.29 L29.08,351.24 L29.33,349.54 L29.58,349.76 L29.84,350.71 L30.09,351.46 L30.34,350.56 L30.59,350.11 L30.85,351.48 L31.1,349.23 L31.35,351.16 L31.6,349.78 L31.86,349.41 L32.11,349.33 L32.36,349.77 L32.61,350.97 L32.86,349.43 L33.12,350.37 L33.37,350.49 L33.62,349.83 L33.87,350.23 L34.13,349.05 L34.38,349.02 L34.63,349.35 L34.88,350.47 L35.14,349.84 L35.39,349.55 L35.64,350.18 L35.89,349.84 L36.14,349.45 L36.4,350.62 L36.65,350.37 L36.9,349.25 L37.15,350.02 L37.41,349.88 L37.66,350.7 L37.91,350.33 L38.16,349.25 L38.42,350.88 L38.67,348.79 L38.92,349.49 L39.17,350.28 L39.42,348.8 L39.68,349.59 L39.93,348.48 L40.18,349.97 L40.43,350.18 L40.69,349.69 L40.94,350.39 L41.19,349.02 L41.44,349.91 L41.7,349.64 L41.95,349.58 L42.2,349.26 L42.45,350.15 L42.7,350.38 L42.96,349.22 L43.21,349.65 L43.46,348.17 L43.71,349.68 L43.97,349.53 L44.22,350.33 L44.47,349.89 L44.72,348.57 L44.98,348.78 L45.23,349.43 L45.48,347.85 L45.73,348.88 L45.98,348.14 L46.24,347.99 L46.49,347.82 L46.74,349.49 L46.99,347.93 L47.25,348.18 L47.5,348.49 L47.75,349.61 L48,347.68 L48.26,348.54 L48.51,348.74 L48.76,349.51 L49.01,349.32 L49.26,349.4 L49.52,347.96 L49.77,348.25 L50.02,348.08 L50.27,349.31 L50.53,349.45 L50.78,347.48 L51.03,347.5 L51.28,347.6 L51.54,347.57 L51.79,348.13 L52.04,348.35 L52.29,347.53 L52.54,346.87 L52.8,347.83 L53.05,347.67 L53.3,348.1 L53.55,348.99 L53.81,348.32 L54.06,347.86 L54.31,348.07 L54.56,348.17 L54.82,346.63 L55.07,348.62 L55.32,348.29 L55.57,348.47 L55.82,348.25 L56.08,347.23 L56.33,347.2 L56.58,346.45 L56.83,347.68 L57.09,346.26 L57.34,346.23 L57.59,346.53 L57.84,346.37 L58.1,346.75 L58.35,346.01 L58.6,345.84 L58.85,346.15 L59.1,345.99 L59.36,346.57 L59.61,345.71 L59.86,347.7 L60.11,347.02 L60.37,345.85 L60.62,346.05 L60.87,346.23 L61.12,346.22 L61.38,345.59 L61.63,347.28 L61.88,347.57 L62.13,346.25 L62.38,346.24 L62.64,345.23 L62.89,345.22 L63.14,345.74 L63.39,345.49 L63.65,346.79 L63.9,345.13 L64.15,344.74 L64.4,346.91 L64.66,345.84 L64.91,344.86 L65.16,345.76 L65.41,344.46 L65.66,345.6 L65.92,346.62 L66.17,346.28 L66.42,345.82 L66.67,344.71 L66.93,344.9 L67.18,344.36 L67.43,345.74 L67.68,345.1 L67.94,345.63 L68.19,344.49 L68.44,344.16 L68.69,345.51 L68.94,345.85 L69.2,345.47 L69.45,345.29 L69.7,345.24 L69.95,344.99 L70.21,343.68 L70.46,344.31 L70.71,343.85 L70.96,342.99 L71.22,342.91 L71.47,343.44 L71.72,343.31 L71.97,344.28 L72.22,344.83 L72.48,343.53 L72.73,344.63 L72.98,344.67 L73.23,344.51 L73.49,343.01 L73.74,342.58 L73.99,342.51 L74.24,342.36 L74.5,342.29 L74.75,343.21 L75,343.79 L75.25,343.55 L75.5,342.6 L75.76,342.93 L76.01,343.19 L76.26,341.38 L76.51,342.67 L76.77,343.17 L77.02,342.77 L77.27,342.59 L77.52,341.84 L77.78,341.02 L78.03,342.39 L78.28,341.19 L78.53,342.21 L78.78,342.51 L79.04,341.02 L79.29,340.93 L79.54,342.13 L79.79,341.48 L80.05,340.03 L80.3,339.81 L80.55,339.75 L80.8,341.44 L81.06,341.08 L81.31,339.37 L81.56,340.88 L81.81,341.11 L82.06,340.21 L82.32,339.33 L82.57,339.67 L82.82,338.52 L83.07,338.09 L83.33,340.24 L83.58,339.31 L83.83,338.85 L84.08,339.66 L84.34,338.29 L84.59,339.17 L84.84,338.87 L85.09,337.2 L85.34,337.1 L85.6,336.99 L85.85,336.65 L86.1,337.25 L86.35,336.23 L86.61,336.35 L86.86,335.39 L87.11,336.98 L87.36,335.33 L87.62,335.25 L87.87,335.19 L88.12,335.57 L88.37,333.97 L88.62,334.67 L88.88,333.12 L89.13,332.55 L89.38,331.76 L89.63,329.62 L89.89,329.47 L90.14,327.33 L90.39,326.04 L90.64,323.13 L90.9,318.89 L91.15,312.86 L91.4,305.54 L91.65,300.54 L91.9,303.07 L92.16,310.14 L92.41,316.84 L92.66,321.71 L92.91,325.06 L93.17,326.2 L93.42,329.81 L93.67,329.58 L93.92,331.31 L94.18,332.74 L94.43,333.02 L94.68,333.05 L94.93,334.03 L95.18,334.57 L95.44,335.53 L95.69,334.27 L95.94,335.71 L96.19,335.27 L96.45,335.64 L96.7,337.1 L96.95,336.73 L97.2,337.1 L97.46,337.81 L97.71,338.4 L97.96,337.48 L98.21,338.09 L98.46,338.03 L98.72,338.23 L98.97,338.85 L99.22,338.44 L99.47,338.81 L99.73,338.84 L99.98,340.11 L100.23,339.68 L100.48,340.25 L100.74,340.56 L100.99,339.06 L101.24,339.92 L101.49,340.98 L101.74,340.86 L102,339.3 L102.25,339.39 L102.5,340.28 L102.75,339.52 L103.01,340.04 L103.26,339.76 L103.51,341.3 L103.76,341.69 L104.02,342.07 L104.27,340.4 L104.52,341.86 L104.77,341.83 L105.02,340.69 L105.28,342.57 L105.53,342.88 L105.78,341.18 L106.03,343.04 L106.29,341.81 L106.54,342.12 L106.79,343.42 L107.04,343.14 L107.3,341.62 L107.55,342.36 L107.8,342.65 L108.05,342.32 L108.3,342.06 L108.56,342.45 L108.81,343.5 L109.06,341.9 L109.31,343.27 L109.57,343.08 L109.82,342.15 L110.07,342.98 L110.32,343.77 L110.58,343.58 L110.83,342.58 L111.08,344.87 L111.33,344.48 L111.58,344.99 L111.84,342.99 L112.09,343.45 L112.34,342.98 L112.59,344.83 L112.85,343.69 L113.1,343.42 L113.35,344.2 L113.6,345.44 L113.86,345.29 L114.11,344.02 L114.36,343.82 L114.61,345.74 L114.86,344.97 L115.12,345.35 L115.37,343.95 L115.62,343.94 L115.87,345.52 L116.13,344.95 L116.38,344.17 L116.63,346.31 L116.88,345.65 L117.14,346.11 L117.39,344.45 L117.64,346.36 L117.89,344.53 L118.14,346.5 L118.4,345.58 L118.65,345.36 L118.9,345.94 L119.15,346.89 L119.41,345.37 L119.66,345.09 L119.91,346.1 L120.16,345.47 L120.42,345.21 L120.67,345.39 L120.92,345.18 L121.17,345.6 L121.42,345.92 L121.68,345.95 L121.93,347.1 L122.18,346.02 L122.43,346.58 L122.69,345.85 L122.94,346.31 L123.19,345.57 L123.44,346.18 L123.7,345.66 L123.95,347.44 L124.2,347.05 L124.45,346.23 L124.7,346.96 L124.96,348.11 L125.21,346.17 L125.46,347.93 L125.71,347.04 L125.97,347.24 L126.22,348.1 L126.47,347.09 L126.72,347.4 L126.98,347.88 L127.23,348.63 L127.48,347.14 L127.73,348.36 L127.98,348.1 L128.24,347.97 L128.49,347.46 L128.74,347.36 L128.99,346.7 L129.25,346.92 L129.5,346.82 L129.75,348.47 L130,347.34 L130.26,347.16 L130.51,347.01 L130.76,348.86 L131.01,348.97 L131.26,348.53 L131.52,347.63 L131.77,347.57 L132.02,347.73 L132.27,348.17 L132.53,347.48 L132.78,348.21 L133.03,347.81 L133.28,349.52 L133.54,349.58 L133.79,348.59 L134.04,347.9 L134.29,349.66 L134.54,348.12 L134.8,348.27 L135.05,347.45 L135.3,348.39 L135.55,348.65 L135.81,348.75 L136.06,348.06 L136.31,348.82 L136.56,347.65 L136.82,348.3 L137.07,347.91 L137.32,348.69 L137.57,347.86 L137.82,347.84 L138.08,348.55 L138.33,348.41 L138.58,349.28 L138.83,349.18 L139.09,349.74 L139.34,349.54 L139.59,349.71 L139.84,350.13 L140.1,348.98 L140.35,348.86 L140.6,350.46 L140.85,348.48 L141.1,349.89 L141.36,349.72 L141.61,348.31 L141.86,350.24 L142.11,350.4 L142.37,349.79 L142.62,350.07 L142.87,350.28 L143.12,348.69 L143.38,349.64 L143.63,349.62 L143.88,350.43 L144.13,350.38 L144.38,350.46 L144.64,349.9 L144.89,350.67 L145.14,350.19 L145.39,350.23 L145.65,349.14 L145.9,348.69 L146.15,348.96 L146.4,349.52 L146.66,348.93 L146.91,350.71 L147.16,350.06 L147.41,350.25 L147.66,350.27 L147.92,350.42 L148.17,349.98 L148.42,348.84 L148.67,350.76 L148.93,350.66 L149.18,350.09 L149.43,350.19 L149.68,350.51 L149.94,349.1 L150.19,350.73 L150.44,349.59 L150.69,349.18 L150.94,349.66 L151.2,350.79 L151.45,349.55 L151.7,350.85 L151.95,351.44 L152.21,350.3 L152.46,350.05 L152.71,350.3 L152.96,350.81 L153.22,351.02 L153.47,350.68 L153.72,350.76 L153.97,349.42 L154.22,349.6 L154.48,349.88 L154.73,351.07 L154.98,350.03 L155.23,350.68 L155.49,349.36 L155.74,349.49 L155.99,350.01 L156.24,350.99 L156.5,351.05 L156.75,351.03 L157,350.12" stroke="#1b3491" stroke-width="1.1" fill="none" stroke-linejoin="round"/>
<text x="170.5" y="175.9" font-size="14" fill="#000" text-anchor="start" font-weight="bold" >d</text>
<path d="M200.5,182.5 L356.5,182.5 L356.5,245.5 L200.5,245.5 Z" fill="none" stroke="#9a9a9a" stroke-width="1.1"/>
<line x1="197.8" y1="195.5" x2="200.5" y2="195.5" stroke="#9a9a9a" stroke-width="1" />
<line x1="197.8" y1="245.5" x2="200.5" y2="245.5" stroke="#9a9a9a" stroke-width="1" />
<line x1="200.5" y1="245.5" x2="200.5" y2="248.3" stroke="#9a9a9a" stroke-width="1" />
<text x="200.3" y="261.2" font-size="10.3" fill="#231f20" text-anchor="middle" font-weight="normal" >–3</text>
<line x1="226.5" y1="245.5" x2="226.5" y2="248.3" stroke="#9a9a9a" stroke-width="1" />
<text x="226.3" y="261.2" font-size="10.3" fill="#231f20" text-anchor="middle" font-weight="normal" >–2</text>
<line x1="252.5" y1="245.5" x2="252.5" y2="248.3" stroke="#9a9a9a" stroke-width="1" />
<text x="252.3" y="261.2" font-size="10.3" fill="#231f20" text-anchor="middle" font-weight="normal" >–1</text>
<line x1="278.5" y1="245.5" x2="278.5" y2="248.3" stroke="#9a9a9a" stroke-width="1" />
<text x="278.3" y="261.2" font-size="10.3" fill="#231f20" text-anchor="middle" font-weight="normal" >0</text>
<line x1="304.5" y1="245.5" x2="304.5" y2="248.3" stroke="#9a9a9a" stroke-width="1" />
<text x="304.3" y="261.2" font-size="10.3" fill="#231f20" text-anchor="middle" font-weight="normal" >1</text>
<line x1="330.5" y1="245.5" x2="330.5" y2="248.3" stroke="#9a9a9a" stroke-width="1" />
<text x="330.3" y="261.2" font-size="10.3" fill="#231f20" text-anchor="middle" font-weight="normal" >2</text>
<line x1="356.5" y1="245.5" x2="356.5" y2="248.3" stroke="#9a9a9a" stroke-width="1" />
<text x="356.3" y="261.2" font-size="10.3" fill="#231f20" text-anchor="middle" font-weight="normal" >3</text>
<text x="191.8" y="199.1" font-size="10.3" fill="#231f20" text-anchor="end" font-weight="normal" >1</text>
<text x="192.6" y="249.1" font-size="10.3" fill="#231f20" text-anchor="end" font-weight="normal" >0</text>
<text x="278.2" y="275.9" font-size="10.3" fill="#231f20" text-anchor="middle" font-weight="normal" >Time (ps)</text>
<text x="0" y="0" font-size="10.3" fill="#231f20" text-anchor="middle" font-weight="normal" transform="translate(179.2,215) rotate(-90)">Intensity (a.u.)</text>
<path d="M200.3,238.38 L200.8,238.53 L201.3,238.73 L201.8,239.02 L202.3,239.17 L202.8,239.44 L203.3,239.21 L203.8,239.34 L204.3,239.67 L204.8,239.69 L205.3,239.79 L205.8,239.49 L206.3,239.54 L206.8,239.52 L207.3,239.72 L207.8,239.9 L208.3,239.77 L208.8,239.82 L209.3,239.88 L209.8,240.21 L210.3,240.27 L210.8,239.89 L211.3,239.85 L211.8,239.36 L212.3,239.17 L212.8,238.68 L213.3,238.22 L213.8,238.28 L214.3,237.94 L214.8,237.73 L215.3,238.02 L215.8,238.24 L216.3,238.19 L216.8,238.63 L217.3,238.8 L217.8,239.08 L218.3,239.11 L218.8,239.54 L219.3,239.69 L219.8,239.87 L220.3,239.87 L220.8,239.59 L221.3,239.5 L221.8,239.39 L222.3,239.37 L222.8,239.39 L223.3,239.58 L223.8,239.91 L224.3,239.86 L224.8,240.23 L225.3,240.32 L225.8,240.39 L226.3,240.69 L226.8,240.71 L227.3,240.6 L227.8,240.57 L228.3,240.6 L228.8,240.29 L229.3,240.57 L229.8,240.29 L230.3,240.5 L230.8,240.7 L231.3,240.44 L231.8,240.69 L232.3,240.65 L232.8,240.75 L233.3,240.53 L233.8,240.41 L234.3,240.39 L234.8,240.73 L235.3,240.5 L235.8,240.56 L236.3,240.61 L236.8,240.59 L237.3,240.23 L237.8,239.98 L238.3,239.87 L238.8,239.88 L239.3,239.51 L239.8,239.54 L240.3,239.52 L240.8,239.47 L241.3,238.94 L241.8,238.98 L242.3,238.45 L242.8,238.11 L243.3,237.89 L243.8,237.74 L244.3,237.2 L244.8,237.02 L245.3,236.58 L245.8,236.08 L246.3,235.58 L246.8,234.61 L247.3,233.35 L247.8,232.09 L248.3,231.22 L248.8,230.71 L249.3,230.1 L249.8,229.77 L250.3,230.13 L250.8,230.2 L251.3,230.22 L251.8,230.14 L252.3,230.17 L252.8,230.09 L253.3,229.43 L253.8,228.25 L254.3,226.57 L254.8,225.3 L255.3,223.59 L255.8,222.57 L256.3,222.18 L256.8,221.49 L257.3,221.26 L257.8,221.12 L258.3,220.76 L258.8,220.49 L259.3,219.81 L259.8,219.36 L260.3,218.68 L260.8,218.3 L261.3,217.38 L261.8,216.45 L262.3,215.69 L262.8,214.71 L263.3,213.77 L263.8,212.6 L264.3,211.63 L264.8,210.83 L265.3,209.88 L265.8,208.87 L266.3,207.97 L266.8,206.95 L267.3,206.1 L267.8,205.54 L268.3,204.84 L268.8,203.97 L269.3,203.12 L269.8,202.28 L270.3,201.41 L270.8,200.73 L271.3,200.32 L271.8,199.85 L272.3,199.08 L272.8,198.72 L273.3,198.45 L273.8,198.22 L274.3,198.05 L274.8,197.98 L275.3,197.71 L275.8,197.67 L276.3,197.31 L276.8,196.97 L277.3,196.72 L277.8,196.4 L278.3,196.01 L278.8,196.24 L279.3,196.5 L279.8,196.73 L280.3,196.69 L280.8,197.07 L281.3,197.32 L281.8,197.89 L282.3,198.39 L282.8,199.18 L283.3,199.96 L283.8,200.89 L284.3,201.62 L284.8,202.62 L285.3,203.67 L285.8,204.74 L286.3,205.53 L286.8,206.61 L287.3,207.63 L287.8,208.55 L288.3,209.66 L288.8,210.73 L289.3,211.55 L289.8,212.43 L290.3,213.13 L290.8,214.22 L291.3,215.23 L291.8,215.93 L292.3,216.78 L292.8,217.63 L293.3,218.46 L293.8,218.99 L294.3,219.91 L294.8,220.65 L295.3,221.43 L295.8,222.05 L296.3,222.8 L296.8,223.58 L297.3,224.23 L297.8,224.9 L298.3,225.19 L298.8,225.65 L299.3,226.28 L299.8,226.95 L300.3,227.34 L300.8,228.04 L301.3,228.68 L301.8,229 L302.3,229.64 L302.8,230.12 L303.3,230.53 L303.8,231 L304.3,231.54 L304.8,231.94 L305.3,232.29 L305.8,232.49 L306.3,232.87 L306.8,233.09 L307.3,233.36 L307.8,233.52 L308.3,233.45 L308.8,233.75 L309.3,233.5 L309.8,233.57 L310.3,233.59 L310.8,233.72 L311.3,233.73 L311.8,234.2 L312.3,234.37 L312.8,234.4 L313.3,234.81 L313.8,234.9 L314.3,235.27 L314.8,235.49 L315.3,235.83 L315.8,236.32 L316.3,236.63 L316.8,236.71 L317.3,237.03 L317.8,237.22 L318.3,237.27 L318.8,237.25 L319.3,237.53 L319.8,237.74 L320.3,238.11 L320.8,238.42 L321.3,238.49 L321.8,238.49 L322.3,238.85 L322.8,238.7 L323.3,238.75 L323.8,239.09 L324.3,239.41 L324.8,239.45 L325.3,239.8 L325.8,240.22 L326.3,240.29 L326.8,240.43 L327.3,240.48 L327.8,240.6 L328.3,241.07 L328.8,241.11 L329.3,241.46 L329.8,241.67 L330.3,241.67 L330.8,241.52 L331.3,241.81 L331.8,241.76 L332.3,241.71 L332.8,241.64 L333.3,241.95 L333.8,241.9 L334.3,241.78 L334.8,241.81 L335.3,241.67 L335.8,241.85 L336.3,241.89 L336.8,241.85 L337.3,242.1 L337.8,242.29 L338.3,242.02 L338.8,242.09 L339.3,241.96 L339.8,242.16 L340.3,242.15 L340.8,241.81 L341.3,241.55 L341.8,241.28 L342.3,241.49 L342.8,241.22 L343.3,241.18 L343.8,241.08 L344.3,241.11 L344.8,241.13 L345.3,241.24 L345.8,240.95 L346.3,241.03 L346.8,240.77 L347.3,240.65 L347.8,240.38 L348.3,240.12 L348.8,239.99 L349.3,239.8 L349.8,239.57 L350.3,239.57 L350.8,239.47 L351.3,239.13 L351.8,239.05 L352.3,239.17 L352.8,239.59 L353.3,239.96 L353.8,240.14 L354.3,240.1 L354.8,240.55 L355.3,240.7 L355.8,240.86 L356.3,240.99" stroke="#3850b8" stroke-width="1.1" fill="none" stroke-linejoin="round"/>
<path d="M200.3,242.91 L200.8,242.87 L201.3,242.84 L201.8,242.81 L202.3,242.77 L202.8,242.74 L203.3,242.7 L203.8,242.67 L204.3,242.63 L204.8,242.59 L205.3,242.55 L205.8,242.52 L206.3,242.48 L206.8,242.43 L207.3,242.39 L207.8,242.35 L208.3,242.31 L208.8,242.26 L209.3,242.22 L209.8,242.17 L210.3,242.13 L210.8,242.08 L211.3,242.03 L211.8,241.98 L212.3,241.93 L212.8,241.88 L213.3,241.83 L213.8,241.77 L214.3,241.72 L214.8,241.66 L215.3,241.6 L215.8,241.54 L216.3,241.48 L216.8,241.42 L217.3,241.36 L217.8,241.29 L218.3,241.23 L218.8,241.16 L219.3,241.09 L219.8,241.02 L220.3,240.95 L220.8,240.88 L221.3,240.8 L221.8,240.72 L222.3,240.64 L222.8,240.56 L223.3,240.48 L223.8,240.39 L224.3,240.31 L224.8,240.22 L225.3,240.13 L225.8,240.03 L226.3,239.94 L226.8,239.84 L227.3,239.74 L227.8,239.63 L228.3,239.53 L228.8,239.42 L229.3,239.3 L229.8,239.19 L230.3,239.07 L230.8,238.95 L231.3,238.82 L231.8,238.7 L232.3,238.56 L232.8,238.43 L233.3,238.29 L233.8,238.15 L234.3,238 L234.8,237.85 L235.3,237.69 L235.8,237.53 L236.3,237.37 L236.8,237.2 L237.3,237.02 L237.8,236.84 L238.3,236.66 L238.8,236.46 L239.3,236.27 L239.8,236.07 L240.3,235.86 L240.8,235.64 L241.3,235.42 L241.8,235.19 L242.3,234.95 L242.8,234.71 L243.3,234.46 L243.8,234.2 L244.3,233.93 L244.8,233.66 L245.3,233.37 L245.8,233.08 L246.3,232.77 L246.8,232.46 L247.3,232.13 L247.8,231.8 L248.3,231.45 L248.8,231.09 L249.3,230.72 L249.8,230.34 L250.3,229.95 L250.8,229.54 L251.3,229.12 L251.8,228.68 L252.3,228.23 L252.8,227.77 L253.3,227.29 L253.8,226.79 L254.3,226.28 L254.8,225.75 L255.3,225.2 L255.8,224.64 L256.3,224.05 L256.8,223.45 L257.3,222.83 L257.8,222.19 L258.3,221.54 L258.8,220.86 L259.3,220.16 L259.8,219.45 L260.3,218.71 L260.8,217.96 L261.3,217.19 L261.8,216.39 L262.3,215.59 L262.8,214.76 L263.3,213.92 L263.8,213.06 L264.3,212.19 L264.8,211.31 L265.3,210.42 L265.8,209.52 L266.3,208.62 L266.8,207.71 L267.3,206.81 L267.8,205.91 L268.3,205.02 L268.8,204.14 L269.3,203.28 L269.8,202.44 L270.3,201.62 L270.8,200.83 L271.3,200.08 L271.8,199.38 L272.3,198.71 L272.8,198.1 L273.3,197.54 L273.8,197.04 L274.3,196.61 L274.8,196.24 L275.3,195.94 L275.8,195.72 L276.3,195.58 L276.8,195.51 L277.3,195.51 L277.8,195.6 L278.3,195.76 L278.8,196 L279.3,196.31 L279.8,196.69 L280.3,197.14 L280.8,197.65 L281.3,198.22 L281.8,198.84 L282.3,199.51 L282.8,200.23 L283.3,200.99 L283.8,201.78 L284.3,202.6 L284.8,203.45 L285.3,204.32 L285.8,205.2 L286.3,206.09 L286.8,206.99 L287.3,207.9 L287.8,208.8 L288.3,209.7 L288.8,210.6 L289.3,211.49 L289.8,212.37 L290.3,213.23 L290.8,214.09 L291.3,214.93 L291.8,215.75 L292.3,216.55 L292.8,217.34 L293.3,218.11 L293.8,218.86 L294.3,219.59 L294.8,220.3 L295.3,221 L295.8,221.67 L296.3,222.32 L296.8,222.96 L297.3,223.57 L297.8,224.17 L298.3,224.75 L298.8,225.31 L299.3,225.85 L299.8,226.38 L300.3,226.89 L300.8,227.38 L301.3,227.86 L301.8,228.32 L302.3,228.77 L302.8,229.2 L303.3,229.62 L303.8,230.03 L304.3,230.42 L304.8,230.8 L305.3,231.17 L305.8,231.52 L306.3,231.87 L306.8,232.2 L307.3,232.52 L307.8,232.83 L308.3,233.14 L308.8,233.43 L309.3,233.71 L309.8,233.99 L310.3,234.25 L310.8,234.51 L311.3,234.76 L311.8,235 L312.3,235.24 L312.8,235.46 L313.3,235.68 L313.8,235.9 L314.3,236.11 L314.8,236.31 L315.3,236.5 L315.8,236.69 L316.3,236.88 L316.8,237.06 L317.3,237.23 L317.8,237.4 L318.3,237.56 L318.8,237.72 L319.3,237.88 L319.8,238.03 L320.3,238.17 L320.8,238.32 L321.3,238.46 L321.8,238.59 L322.3,238.72 L322.8,238.85 L323.3,238.97 L323.8,239.09 L324.3,239.21 L324.8,239.33 L325.3,239.44 L325.8,239.55 L326.3,239.65 L326.8,239.76 L327.3,239.86 L327.8,239.96 L328.3,240.05 L328.8,240.15 L329.3,240.24 L329.8,240.33 L330.3,240.41 L330.8,240.5 L331.3,240.58 L331.8,240.66 L332.3,240.74 L332.8,240.82 L333.3,240.89 L333.8,240.96 L334.3,241.04 L334.8,241.11 L335.3,241.17 L335.8,241.24 L336.3,241.31 L336.8,241.37 L337.3,241.43 L337.8,241.5 L338.3,241.56 L338.8,241.61 L339.3,241.67 L339.8,241.73 L340.3,241.78 L340.8,241.84 L341.3,241.89 L341.8,241.94 L342.3,241.99 L342.8,242.04 L343.3,242.09 L343.8,242.14 L344.3,242.18 L344.8,242.23 L345.3,242.27 L345.8,242.32 L346.3,242.36 L346.8,242.4 L347.3,242.44 L347.8,242.48 L348.3,242.52 L348.8,242.56 L349.3,242.6 L349.8,242.64 L350.3,242.67 L350.8,242.71 L351.3,242.75 L351.8,242.78 L352.3,242.81 L352.8,242.85 L353.3,242.88 L353.8,242.91 L354.3,242.94 L354.8,242.98 L355.3,243.01 L355.8,243.04 L356.3,243.07" stroke="#d42a3c" stroke-width="1.1" fill="none" />
<text x="245.5" y="192" font-size="10.3" fill="#c01e3c" text-anchor="start" font-weight="normal" >Primary soliton</text>
<line x1="299.5" y1="204.5" x2="322.2" y2="204.5" stroke="#d86070" stroke-width="1.3" />
<text x="327.2" y="208" font-size="10.3" fill="#231f20" text-anchor="start" font-weight="normal" >Fitting</text>
<text x="315.8" y="222.5" font-size="10.3" fill="#c01e3c" text-anchor="start" font-weight="normal" >688 fs</text>
<text x="170.5" y="285.3" font-size="15" fill="#000" text-anchor="start" font-weight="bold" >e</text>
<path d="M200.5,295.5 L356.5,295.5 L356.5,358.5 L200.5,358.5 Z" fill="none" stroke="#9a9a9a" stroke-width="1.1"/>
<line x1="197.8" y1="308.5" x2="200.5" y2="308.5" stroke="#9a9a9a" stroke-width="1" />
<line x1="197.8" y1="358.5" x2="200.5" y2="358.5" stroke="#9a9a9a" stroke-width="1" />
<line x1="200.5" y1="358.5" x2="200.5" y2="361.3" stroke="#9a9a9a" stroke-width="1" />
<text x="200.3" y="373.8" font-size="10.3" fill="#231f20" text-anchor="middle" font-weight="normal" >–3</text>
<line x1="226.5" y1="358.5" x2="226.5" y2="361.3" stroke="#9a9a9a" stroke-width="1" />
<text x="226.3" y="373.8" font-size="10.3" fill="#231f20" text-anchor="middle" font-weight="normal" >–2</text>
<line x1="252.5" y1="358.5" x2="252.5" y2="361.3" stroke="#9a9a9a" stroke-width="1" />
<text x="252.3" y="373.8" font-size="10.3" fill="#231f20" text-anchor="middle" font-weight="normal" >–1</text>
<line x1="278.5" y1="358.5" x2="278.5" y2="361.3" stroke="#9a9a9a" stroke-width="1" />
<text x="278.3" y="373.8" font-size="10.3" fill="#231f20" text-anchor="middle" font-weight="normal" >0</text>
<line x1="304.5" y1="358.5" x2="304.5" y2="361.3" stroke="#9a9a9a" stroke-width="1" />
<text x="304.3" y="373.8" font-size="10.3" fill="#231f20" text-anchor="middle" font-weight="normal" >1</text>
<line x1="330.5" y1="358.5" x2="330.5" y2="361.3" stroke="#9a9a9a" stroke-width="1" />
<text x="330.3" y="373.8" font-size="10.3" fill="#231f20" text-anchor="middle" font-weight="normal" >2</text>
<line x1="356.5" y1="358.5" x2="356.5" y2="361.3" stroke="#9a9a9a" stroke-width="1" />
<text x="356.3" y="373.8" font-size="10.3" fill="#231f20" text-anchor="middle" font-weight="normal" >3</text>
<text x="191.8" y="312.1" font-size="10.3" fill="#231f20" text-anchor="end" font-weight="normal" >1</text>
<text x="192.6" y="362.1" font-size="10.3" fill="#231f20" text-anchor="end" font-weight="normal" >0</text>
<text x="278.2" y="388.5" font-size="10.3" fill="#231f20" text-anchor="middle" font-weight="normal" >Time (ps)</text>
<text x="0" y="0" font-size="10.3" fill="#231f20" text-anchor="middle" font-weight="normal" transform="translate(179.2,328) rotate(-90)">Intensity (a.u.)</text>
<path d="M200.3,357.34 L200.8,357.41 L201.3,357.46 L201.8,357.54 L202.3,357.46 L202.8,357.48 L203.3,357.01 L203.8,356.91 L204.3,357.06 L204.8,356.97 L205.3,357 L205.8,356.59 L206.3,356.48 L206.8,356.27 L207.3,356.25 L207.8,356.22 L208.3,355.88 L208.8,355.74 L209.3,355.65 L209.8,355.88 L210.3,355.91 L210.8,355.59 L211.3,355.68 L211.8,355.39 L212.3,355.42 L212.8,355.17 L213.3,354.94 L213.8,355.22 L214.3,355.04 L214.8,354.93 L215.3,355.24 L215.8,355.37 L216.3,355.16 L216.8,355.38 L217.3,355.31 L217.8,355.34 L218.3,355.14 L218.8,355.4 L219.3,355.45 L219.8,355.62 L220.3,355.71 L220.8,355.47 L221.3,355.37 L221.8,355.22 L222.3,355.13 L222.8,355.04 L223.3,355.1 L223.8,355.29 L224.3,355.1 L224.8,355.31 L225.3,355.24 L225.8,355.17 L226.3,355.36 L226.8,355.3 L227.3,355.2 L227.8,355.23 L228.3,355.37 L228.8,355.16 L229.3,355.52 L229.8,355.29 L230.3,355.54 L230.8,355.78 L231.3,355.54 L231.8,355.81 L232.3,355.8 L232.8,355.94 L233.3,355.76 L233.8,355.71 L234.3,355.77 L234.8,356.22 L235.3,356.12 L235.8,356.36 L236.3,356.6 L236.8,356.75 L237.3,356.53 L237.8,356.4 L238.3,356.38 L238.8,356.46 L239.3,356.14 L239.8,356.21 L240.3,356.22 L240.8,356.24 L241.3,355.82 L241.8,356.01 L242.3,355.69 L242.8,355.61 L243.3,355.7 L243.8,355.91 L244.3,355.74 L244.8,355.93 L245.3,355.85 L245.8,355.68 L246.3,355.57 L246.8,355.41 L247.3,355.25 L247.8,355.16 L248.3,355.33 L248.8,355.55 L249.3,355.2 L249.8,354.87 L250.3,355.05 L250.8,354.85 L251.3,354.55 L251.8,354.15 L252.3,353.96 L252.8,353.85 L253.3,353.48 L253.8,353.12 L254.3,352.6 L254.8,352.58 L255.3,351.99 L255.8,351.71 L256.3,351.55 L256.8,350.92 L257.3,350.65 L257.8,350.37 L258.3,349.75 L258.8,348.87 L259.3,347.34 L259.8,345.92 L260.3,344.29 L260.8,343.11 L261.3,341.69 L261.8,340.63 L262.3,340.05 L262.8,339.04 L263.3,337.81 L263.8,336.12 L264.3,334.45 L264.8,332.95 L265.3,331.39 L265.8,329.94 L266.3,328.79 L266.8,327.47 L267.3,326.26 L267.8,325.29 L268.3,324.14 L268.8,322.73 L269.3,321.26 L269.8,319.77 L270.3,318.26 L270.8,317.01 L271.3,316.12 L271.8,315.26 L272.3,314.14 L272.8,313.34 L273.3,312.53 L273.8,311.69 L274.3,310.87 L274.8,310.12 L275.3,309.22 L275.8,308.8 L276.3,308.38 L276.8,308.3 L277.3,308.5 L277.8,308.68 L278.3,308.71 L278.8,309.33 L279.3,309.91 L279.8,310.64 L280.3,311.26 L280.8,312.39 L281.3,313.44 L281.8,314.81 L282.3,316.06 L282.8,317.5 L283.3,318.8 L283.8,320.21 L284.3,321.38 L284.8,322.79 L285.3,324.24 L285.8,325.69 L286.3,326.84 L286.8,328.3 L287.3,329.68 L287.8,330.89 L288.3,332.22 L288.8,333.44 L289.3,334.36 L289.8,335.31 L290.3,336.06 L290.8,337.19 L291.3,338.24 L291.8,338.95 L292.3,339.76 L292.8,340.53 L293.3,341.25 L293.8,341.64 L294.3,342.41 L294.8,342.98 L295.3,343.57 L295.8,343.99 L296.3,344.53 L296.8,345.11 L297.3,345.55 L297.8,346.03 L298.3,346.13 L298.8,346.41 L299.3,346.87 L299.8,347.41 L300.3,347.67 L300.8,348.19 L301.3,348.6 L301.8,348.66 L302.3,349.02 L302.8,349.22 L303.3,349.35 L303.8,349.56 L304.3,349.86 L304.8,350.05 L305.3,350.25 L305.8,350.37 L306.3,350.73 L306.8,350.97 L307.3,351.3 L307.8,351.55 L308.3,351.6 L308.8,352.02 L309.3,351.89 L309.8,352.08 L310.3,352.2 L310.8,352.39 L311.3,352.42 L311.8,352.84 L312.3,352.92 L312.8,352.84 L313.3,353.13 L313.8,353.09 L314.3,353.33 L314.8,353.41 L315.3,353.62 L315.8,353.97 L316.3,354.14 L316.8,354.08 L317.3,354.27 L317.8,354.33 L318.3,354.25 L318.8,354.12 L319.3,354.3 L319.8,354.41 L320.3,354.7 L320.8,354.9 L321.3,354.87 L321.8,354.74 L322.3,354.95 L322.8,354.66 L323.3,354.55 L323.8,354.74 L324.3,354.89 L324.8,354.76 L325.3,354.95 L325.8,355.21 L326.3,355.13 L326.8,355.13 L327.3,355.04 L327.8,355.04 L328.3,355.4 L328.8,355.33 L329.3,355.6 L329.8,355.76 L330.3,355.71 L330.8,355.53 L331.3,355.8 L331.8,355.74 L332.3,355.67 L332.8,355.59 L333.3,355.89 L333.8,355.84 L334.3,355.72 L334.8,355.75 L335.3,355.6 L335.8,355.77 L336.3,355.79 L336.8,355.74 L337.3,355.96 L337.8,356.12 L338.3,355.82 L338.8,355.91 L339.3,355.83 L339.8,356.13 L340.3,356.24 L340.8,356.04 L341.3,355.94 L341.8,355.82 L342.3,356.18 L342.8,356.05 L343.3,356.14 L343.8,356.13 L344.3,356.21 L344.8,356.25 L345.3,356.35 L345.8,356.1 L346.3,356.28 L346.8,356.16 L347.3,356.21 L347.8,356.15 L348.3,356.1 L348.8,356.2 L349.3,356.23 L349.8,356.2 L350.3,356.39 L350.8,356.44 L351.3,356.22 L351.8,356.21 L352.3,356.34 L352.8,356.66 L353.3,356.87 L353.8,356.84 L354.3,356.57 L354.8,356.81 L355.3,356.78 L355.8,356.85 L356.3,356.95" stroke="#3850b8" stroke-width="1.1" fill="none" stroke-linejoin="round"/>
<path d="M200.3,357.28 L200.8,357.26 L201.3,357.25 L201.8,357.23 L202.3,357.21 L202.8,357.2 L203.3,357.18 L203.8,357.16 L204.3,357.15 L204.8,357.13 L205.3,357.11 L205.8,357.09 L206.3,357.07 L206.8,357.05 L207.3,357.03 L207.8,357.01 L208.3,356.99 L208.8,356.97 L209.3,356.95 L209.8,356.92 L210.3,356.9 L210.8,356.88 L211.3,356.85 L211.8,356.83 L212.3,356.8 L212.8,356.78 L213.3,356.75 L213.8,356.73 L214.3,356.7 L214.8,356.67 L215.3,356.64 L215.8,356.61 L216.3,356.58 L216.8,356.55 L217.3,356.52 L217.8,356.49 L218.3,356.46 L218.8,356.42 L219.3,356.39 L219.8,356.36 L220.3,356.32 L220.8,356.28 L221.3,356.24 L221.8,356.21 L222.3,356.17 L222.8,356.12 L223.3,356.08 L223.8,356.04 L224.3,356 L224.8,355.95 L225.3,355.9 L225.8,355.86 L226.3,355.81 L226.8,355.76 L227.3,355.71 L227.8,355.65 L228.3,355.6 L228.8,355.54 L229.3,355.48 L229.8,355.42 L230.3,355.36 L230.8,355.3 L231.3,355.23 L231.8,355.17 L232.3,355.1 L232.8,355.03 L233.3,354.95 L233.8,354.88 L234.3,354.8 L234.8,354.72 L235.3,354.64 L235.8,354.55 L236.3,354.46 L236.8,354.37 L237.3,354.27 L237.8,354.18 L238.3,354.08 L238.8,353.97 L239.3,353.86 L239.8,353.75 L240.3,353.63 L240.8,353.51 L241.3,353.39 L241.8,353.26 L242.3,353.13 L242.8,352.99 L243.3,352.85 L243.8,352.7 L244.3,352.54 L244.8,352.38 L245.3,352.21 L245.8,352.04 L246.3,351.86 L246.8,351.67 L247.3,351.47 L247.8,351.27 L248.3,351.06 L248.8,350.84 L249.3,350.6 L249.8,350.36 L250.3,350.11 L250.8,349.85 L251.3,349.58 L251.8,349.29 L252.3,348.99 L252.8,348.68 L253.3,348.35 L253.8,348.01 L254.3,347.66 L254.8,347.28 L255.3,346.89 L255.8,346.48 L256.3,346.05 L256.8,345.6 L257.3,345.12 L257.8,344.63 L258.3,344.11 L258.8,343.56 L259.3,342.99 L259.8,342.39 L260.3,341.75 L260.8,341.09 L261.3,340.4 L261.8,339.67 L262.3,338.9 L262.8,338.1 L263.3,337.26 L263.8,336.38 L264.3,335.46 L264.8,334.5 L265.3,333.5 L265.8,332.46 L266.3,331.37 L266.8,330.24 L267.3,329.08 L267.8,327.88 L268.3,326.64 L268.8,325.37 L269.3,324.08 L269.8,322.76 L270.3,321.44 L270.8,320.11 L271.3,318.79 L271.8,317.49 L272.3,316.22 L272.8,314.99 L273.3,313.83 L273.8,312.74 L274.3,311.75 L274.8,310.86 L275.3,310.1 L275.8,309.47 L276.3,308.99 L276.8,308.67 L277.3,308.52 L277.8,308.53 L278.3,308.7 L278.8,309.04 L279.3,309.54 L279.8,310.18 L280.3,310.96 L280.8,311.86 L281.3,312.87 L281.8,313.96 L282.3,315.14 L282.8,316.37 L283.3,317.64 L283.8,318.95 L284.3,320.27 L284.8,321.6 L285.3,322.92 L285.8,324.23 L286.3,325.52 L286.8,326.79 L287.3,328.02 L287.8,329.22 L288.3,330.38 L288.8,331.5 L289.3,332.58 L289.8,333.62 L290.3,334.62 L290.8,335.57 L291.3,336.49 L291.8,337.36 L292.3,338.2 L292.8,339 L293.3,339.76 L293.8,340.48 L294.3,341.17 L294.8,341.83 L295.3,342.46 L295.8,343.06 L296.3,343.63 L296.8,344.17 L297.3,344.69 L297.8,345.18 L298.3,345.65 L298.8,346.1 L299.3,346.53 L299.8,346.94 L300.3,347.33 L300.8,347.7 L301.3,348.05 L301.8,348.39 L302.3,348.72 L302.8,349.03 L303.3,349.33 L303.8,349.61 L304.3,349.88 L304.8,350.14 L305.3,350.39 L305.8,350.63 L306.3,350.86 L306.8,351.08 L307.3,351.29 L307.8,351.5 L308.3,351.69 L308.8,351.88 L309.3,352.06 L309.8,352.23 L310.3,352.4 L310.8,352.56 L311.3,352.71 L311.8,352.86 L312.3,353.01 L312.8,353.14 L313.3,353.28 L313.8,353.41 L314.3,353.53 L314.8,353.65 L315.3,353.76 L315.8,353.88 L316.3,353.98 L316.8,354.09 L317.3,354.19 L317.8,354.29 L318.3,354.38 L318.8,354.47 L319.3,354.56 L319.8,354.65 L320.3,354.73 L320.8,354.81 L321.3,354.89 L321.8,354.96 L322.3,355.03 L322.8,355.11 L323.3,355.17 L323.8,355.24 L324.3,355.31 L324.8,355.37 L325.3,355.43 L325.8,355.49 L326.3,355.55 L326.8,355.6 L327.3,355.66 L327.8,355.71 L328.3,355.76 L328.8,355.81 L329.3,355.86 L329.8,355.91 L330.3,355.96 L330.8,356 L331.3,356.05 L331.8,356.09 L332.3,356.13 L332.8,356.17 L333.3,356.21 L333.8,356.25 L334.3,356.29 L334.8,356.32 L335.3,356.36 L335.8,356.39 L336.3,356.43 L336.8,356.46 L337.3,356.49 L337.8,356.53 L338.3,356.56 L338.8,356.59 L339.3,356.62 L339.8,356.65 L340.3,356.67 L340.8,356.7 L341.3,356.73 L341.8,356.76 L342.3,356.78 L342.8,356.81 L343.3,356.83 L343.8,356.86 L344.3,356.88 L344.8,356.9 L345.3,356.93 L345.8,356.95 L346.3,356.97 L346.8,356.99 L347.3,357.01 L347.8,357.03 L348.3,357.05 L348.8,357.07 L349.3,357.09 L349.8,357.11 L350.3,357.13 L350.8,357.15 L351.3,357.16 L351.8,357.18 L352.3,357.2 L352.8,357.22 L353.3,357.23 L353.8,357.25 L354.3,357.26 L354.8,357.28 L355.3,357.3 L355.8,357.31 L356.3,357.33" stroke="#d42a3c" stroke-width="1.1" fill="none" />
<text x="237.8" y="305.6" font-size="10.3" fill="#3a46a6" text-anchor="start" font-weight="normal" >Secondary soliton</text>
<line x1="299.5" y1="318.1" x2="322.2" y2="318.1" stroke="#d83848" stroke-width="1.3" />
<text x="327.2" y="321.6" font-size="10.3" fill="#231f20" text-anchor="start" font-weight="normal" >Fitting</text>
<text x="316.4" y="335.5" font-size="10.3" fill="#3a46a6" text-anchor="start" font-weight="normal" >434 fs</text>
<text x="398.8" y="16.6" font-size="15" fill="#000" text-anchor="start" font-weight="bold" >g</text>
<text x="509.5" y="8" font-size="10.3" fill="#231f20" text-anchor="start" font-weight="normal" >Wavelength (nm)</text>
<line x1="439.5" y1="30.6" x2="439.5" y2="33.5" stroke="#333" stroke-width="1" />
<text x="439.19" y="26" font-size="10.3" fill="#231f20" text-anchor="middle" font-weight="normal" >1580</text>
<line x1="494.5" y1="30.6" x2="494.5" y2="33.5" stroke="#333" stroke-width="1" />
<text x="493.58" y="26" font-size="10.3" fill="#231f20" text-anchor="middle" font-weight="normal" >1570</text>
<line x1="549.5" y1="30.6" x2="549.5" y2="33.5" stroke="#333" stroke-width="1" />
<text x="548.66" y="26" font-size="10.3" fill="#231f20" text-anchor="middle" font-weight="normal" >1560</text>
<line x1="604.5" y1="30.6" x2="604.5" y2="33.5" stroke="#333" stroke-width="1" />
<text x="604.45" y="26" font-size="10.3" fill="#231f20" text-anchor="middle" font-weight="normal" >1550</text>
<line x1="661.5" y1="30.6" x2="661.5" y2="33.5" stroke="#333" stroke-width="1" />
<text x="660.97" y="26" font-size="10.3" fill="#231f20" text-anchor="middle" font-weight="normal" >1540</text>
<rect x="420.5" y="33.5" width="256" height="82" fill="none" stroke="#333" stroke-width="1"/>
<line x1="417.3" y1="53.5" x2="420.5" y2="53.5" stroke="#333" stroke-width="1" />
<line x1="417.3" y1="74.5" x2="420.5" y2="74.5" stroke="#333" stroke-width="1" />
<line x1="417.3" y1="94.5" x2="420.5" y2="94.5" stroke="#333" stroke-width="1" />
<line x1="417.3" y1="115.5" x2="420.5" y2="115.5" stroke="#333" stroke-width="1" />
<line x1="417.3" y1="33.5" x2="420.5" y2="33.5" stroke="#333" stroke-width="1" />
<text x="0" y="0" font-size="10.3" fill="#231f20" text-anchor="middle" font-weight="normal" transform="translate(407.2,74.3) rotate(-90)">D<tspan font-size="7" dy="2">int</tspan><tspan dy="-2">/2π (5 GHz/div)</tspan></text>
<path d="M420.3,39.3 C430.25,39.2 456.72,38.93 480,38.7 C503.28,38.47 540,38 560,37.9 C580,37.8 586.67,38.08 600,38.1 C613.33,38.12 627.22,37.75 640,38.0 C652.78,38.25 670.58,39.33 676.7,39.6" fill="none" stroke="#5a1896" stroke-width="4.2" stroke-linecap="round"/>
<path d="M420.3,62.8 C423.58,62.45 432.38,61.23 440,60.7 C447.62,60.17 457.67,59.7 466,59.6 C474.33,59.5 482.67,59.87 490,60.1 C497.33,60.33 504.5,60.83 510,61.0 C515.5,61.17 517.17,61.33 523,61.1 C528.83,60.87 538.83,60.05 545,59.6 C551.17,59.15 554.17,58.78 560,58.4 C565.83,58.02 572.33,57.45 580,57.3 C587.67,57.15 597.67,57.1 606,57.5 C614.33,57.9 621.83,58.7 630,59.7 C638.17,60.7 647.22,62.38 655,63.5 C662.78,64.62 673.08,65.92 676.7,66.4" fill="none" stroke="#5a1896" stroke-width="4.2" stroke-linecap="round"/>
<path d="M420.3,97.4 C423.58,96.28 432.38,92.92 440,90.7 C447.62,88.48 457.67,86.22 466,84.1 C474.33,81.98 482.67,79.63 490,78 C497.33,76.37 504.5,75.18 510,74.3 C515.5,73.42 518.83,72.97 523,72.7 C527.17,72.43 530.5,72.43 535,72.7 C539.5,72.97 545.83,73.75 550,74.3 C554.17,74.85 555,74.78 560,76 C565,77.22 573.33,79.4 580,81.6 C586.67,83.8 593.33,86.73 600,89.2 C606.67,91.67 613.33,94.03 620,96.4 C626.67,98.77 633.33,101.23 640,103.4 C646.67,105.57 653.88,107.77 660,109.4 C666.12,111.03 673.92,112.57 676.7,113.2" fill="none" stroke="#5a1896" stroke-width="4.2" stroke-linecap="round"/>
<path d="M466.6,83.8 L578.5,38.3" stroke="#222" stroke-width="0.9" stroke-dasharray="7.5,4.5" fill="none"/>
<path d="M470,83.6 L606,83.6" stroke="#222" stroke-width="0.9" stroke-dasharray="3,2.2" fill="none"/>
<path d="M527,60.5 L606,60.5" stroke="#666" stroke-width="0.9" stroke-dasharray="3,2.2" fill="none"/>
<path d="M583,38.3 L606,38.3" stroke="#222" stroke-width="0.9" stroke-dasharray="3,2.2" fill="none"/>
<rect x="462.6" y="79.7" width="8" height="8" fill="#f5a623" fill-opacity="0.6"/>
<rect x="519" y="56.8" width="8.2" height="7.8" fill="#e04060" fill-opacity="0.65"/>
<rect x="574.5" y="34.4" width="8" height="8" fill="#3a6ad0" fill-opacity="0.6"/>
<line x1="606.6" y1="40.8" x2="606.6" y2="56.5" stroke="#333" stroke-width="0.9" />
<polygon points="606.6,40.2 608.1,43.7 605.1,43.7" fill="#222"/>
<polygon points="606.6,57.2 605.1,53.7 608.1,53.7" fill="#222"/>
<line x1="606.6" y1="62" x2="606.6" y2="82.5" stroke="#333" stroke-width="0.9" />
<polygon points="606.6,61.4 608.1,64.9 605.1,64.9" fill="#222"/>
<polygon points="606.6,83.2 605.1,79.7 608.1,79.7" fill="#222"/>
<text x="611.1" y="50.5" font-size="10.3" fill="#231f20" text-anchor="start" font-weight="normal" >Δ</text>
<text x="617.7" y="53.5" font-size="6" fill="#231f20" text-anchor="start" font-weight="normal" >int</text>
<text x="623.5" y="50.5" font-size="10.3" fill="#231f20" text-anchor="start" font-weight="normal" >/2π</text>
<text x="611.3" y="73.1" font-size="10.3" fill="#231f20" text-anchor="start" font-weight="normal" >Δ</text>
<text x="617.9" y="76.1" font-size="6" fill="#231f20" text-anchor="start" font-weight="normal" >int</text>
<text x="623.7" y="73.1" font-size="10.3" fill="#231f20" text-anchor="start" font-weight="normal" >/2π</text>
<line x1="467.5" y1="99.8" x2="522" y2="99.8" stroke="#8a8a8a" stroke-width="1" />
<polygon points="467,99.8 470.8,98.2 470.8,101.4" fill="#222"/>
<polygon points="522.6,99.8 518.8,101.4 518.8,98.2" fill="#222"/>
<line x1="524" y1="99.8" x2="578" y2="99.8" stroke="#8a8a8a" stroke-width="1" />
<polygon points="523.8,99.8 527.6,98.2 527.6,101.4" fill="#222"/>
<polygon points="578.8,99.8 575,101.4 575,98.2" fill="#222"/>
<text x="484" y="109.5" font-size="10.3" fill="#231f20" text-anchor="start" font-weight="normal" >Δ</text>
<text x="490.6" y="112.9" font-size="6" fill="#231f20" text-anchor="start" font-weight="normal" >o</text>
<text x="494.4" y="109.5" font-size="10.3" fill="#231f20" text-anchor="start" font-weight="normal" >/2π</text>
<text x="539.5" y="109.5" font-size="10.3" fill="#231f20" text-anchor="start" font-weight="normal" >Δ</text>
<text x="546.1" y="112.9" font-size="6" fill="#231f20" text-anchor="start" font-weight="normal" >o</text>
<text x="549.9" y="109.5" font-size="10.3" fill="#231f20" text-anchor="start" font-weight="normal" >/2π</text>
<line x1="466.6" y1="88" x2="466.6" y2="154" stroke="#f0a030" stroke-width="1.1" stroke-dasharray="4,2.2"/>
<polygon points="466.6,158.5 464,153.5 469.2,153.5" fill="#f0a030"/>
<line x1="523.2" y1="64.6" x2="523.2" y2="155" stroke="#e05a70" stroke-width="1.1" stroke-dasharray="4,2.2"/>
<polygon points="523.2,159.5 520.6,154.5 525.8,154.5" fill="#c8102e"/>
<line x1="579.6" y1="42.4" x2="579.6" y2="178" stroke="#3a5ac0" stroke-width="1.1" stroke-dasharray="4,2.2"/>
<polygon points="579.6,183 577,178 582.2,178" fill="#1a3aa0"/>
<text x="397.5" y="146.7" font-size="14" fill="#000" text-anchor="start" font-weight="bold" >f</text>
<text x="0" y="0" font-size="10.3" fill="#231f20" text-anchor="middle" font-weight="normal" transform="translate(411.3,197) rotate(-90)">Power (20 dB/div)</text>
<text x="509.8" y="277.9" font-size="10.3" fill="#231f20" text-anchor="start" font-weight="normal" >Frequency (THz)</text>
<line x1="451.5" y1="245.5" x2="451.5" y2="248.3" stroke="#555" stroke-width="1" />
<text x="451.3" y="261.1" font-size="10.3" fill="#231f20" text-anchor="middle" font-weight="normal" >190</text>
<line x1="496.5" y1="245.5" x2="496.5" y2="248.3" stroke="#555" stroke-width="1" />
<text x="496.3" y="261.1" font-size="10.3" fill="#231f20" text-anchor="middle" font-weight="normal" >191</text>
<line x1="541.5" y1="245.5" x2="541.5" y2="248.3" stroke="#555" stroke-width="1" />
<text x="541.3" y="261.1" font-size="10.3" fill="#231f20" text-anchor="middle" font-weight="normal" >192</text>
<line x1="586.5" y1="245.5" x2="586.5" y2="248.3" stroke="#555" stroke-width="1" />
<text x="586.3" y="261.1" font-size="10.3" fill="#231f20" text-anchor="middle" font-weight="normal" >193</text>
<line x1="631.5" y1="245.5" x2="631.5" y2="248.3" stroke="#555" stroke-width="1" />
<text x="631.3" y="261.1" font-size="10.3" fill="#231f20" text-anchor="middle" font-weight="normal" >194</text>
<line x1="676.5" y1="245.5" x2="676.5" y2="248.3" stroke="#555" stroke-width="1" />
<text x="676.3" y="261.1" font-size="10.3" fill="#231f20" text-anchor="middle" font-weight="normal" >195</text>
<line x1="417.2" y1="148.5" x2="420.5" y2="148.5" stroke="#555" stroke-width="1" />
<line x1="417.2" y1="180.5" x2="420.5" y2="180.5" stroke="#555" stroke-width="1" />
<line x1="417.2" y1="213.5" x2="420.5" y2="213.5" stroke="#555" stroke-width="1" />
<line x1="417.2" y1="245.5" x2="420.5" y2="245.5" stroke="#555" stroke-width="1" />
<defs><clipPath id="cr"><path d="M424.4,245.5 L424.4,240.91 L425.75,240.91 L425.75,234.79 L427.1,234.79 L427.1,229.14 L428.45,229.14 L428.45,222.85 L429.8,222.85 L429.8,215.09 L431.15,215.09 L431.15,202.72 L432.5,202.72 L432.5,192.34 L433.85,192.34 L433.85,182.75 L435.2,182.75 L435.2,184.38 L436.55,184.38 L436.55,191.7 L437.9,191.7 L437.9,199.29 L439.25,199.29 L439.25,212.8 L440.6,212.8 L440.6,215.34 L441.95,215.34 L441.95,220.91 L443.3,220.91 L443.3,223.59 L444.65,223.59 L444.65,221.76 L446,221.76 L446,225.01 L447.35,225.01 L447.35,223.34 L448.7,223.34 L448.7,224.04 L450.05,224.04 L450.05,222.74 L451.4,222.74 L451.4,225.37 L452.75,225.37 L452.75,228.78 L454.1,228.78 L454.1,223.93 L455.45,223.93 L455.45,223.55 L456.8,223.55 L456.8,226.01 L458.15,226.01 L458.15,224.02 L459.5,224.02 L459.5,222.19 L460.85,222.19 L460.85,223.9 L462.2,223.9 L462.2,221.68 L463.55,221.68 L463.55,221.33 L464.9,221.33 L464.9,222.05 L466.25,222.05 L466.25,222.1 L467.6,222.1 L467.6,222.03 L468.95,222.03 L468.95,219.9 L470.3,219.9 L470.3,220.34 L471.65,220.34 L471.65,219.49 L473,219.49 L473,220.18 L474.35,220.18 L474.35,218.28 L475.7,218.28 L475.7,217.18 L477.05,217.18 L477.05,219.73 L478.4,219.73 L478.4,217.41 L479.75,217.41 L479.75,218.54 L481.1,218.54 L481.1,216.56 L482.45,216.56 L482.45,215.07 L483.8,215.07 L483.8,215.93 L485.15,215.93 L485.15,215.25 L486.5,215.25 L486.5,216.73 L487.85,216.73 L487.85,215.07 L489.2,215.07 L489.2,211.08 L490.55,211.08 L490.55,208.13 L491.9,208.13 L491.9,208.32 L493.25,208.32 L493.25,203.52 L494.6,203.52 L494.6,204.25 L495.95,204.25 L495.95,202.12 L497.3,202.12 L497.3,200.61 L498.65,200.61 L498.65,199.01 L500,199.01 L500,196.88 L501.35,196.88 L501.35,196.7 L502.7,196.7 L502.7,192.53 L504.05,192.53 L504.05,192.56 L505.4,192.56 L505.4,187.38 L506.75,187.38 L506.75,189.28 L508.1,189.28 L508.1,184.47 L509.45,184.47 L509.45,181.92 L510.8,181.92 L510.8,180.25 L512.15,180.25 L512.15,180.32 L513.5,180.32 L513.5,173.77 L514.85,173.77 L514.85,171.85 L516.2,171.85 L516.2,170.85 L517.55,170.85 L517.55,170.14 L518.9,170.14 L518.9,167.76 L520.25,167.76 L520.25,165.93 L521.6,165.93 L521.6,164.33 L522.95,164.33 L522.95,163.83 L524.3,163.83 L524.3,167.04 L525.65,167.04 L525.65,172.08 L527,172.08 L527,169.71 L528.35,169.71 L528.35,174.03 L529.7,174.03 L529.7,177.9 L531.05,177.9 L531.05,179.7 L532.4,179.7 L532.4,179.59 L533.75,179.59 L533.75,183.15 L535.1,183.15 L535.1,185.97 L536.45,185.97 L536.45,189.71 L537.8,189.71 L537.8,190.64 L539.15,190.64 L539.15,193.42 L540.5,193.42 L540.5,195.58 L541.85,195.58 L541.85,196.32 L543.2,196.32 L543.2,197.45 L544.55,197.45 L544.55,202.73 L545.9,202.73 L545.9,202.11 L547.25,202.11 L547.25,204.39 L548.6,204.39 L548.6,204.26 L549.95,204.26 L549.95,207.51 L551.3,207.51 L551.3,206.7 L552.65,206.7 L552.65,209.71 L554,209.71 L554,211.29 L555.35,211.29 L555.35,211.43 L556.7,211.43 L556.7,214.59 L558.05,214.59 L558.05,214.52 L559.4,214.52 L559.4,215.11 L560.75,215.11 L560.75,217.5 L562.1,217.5 L562.1,218.9 L563.45,218.9 L563.45,220.18 L564.8,220.18 L564.8,222.46 L566.15,222.46 L566.15,226.67 L567.5,226.67 L567.5,226.94 L568.85,226.94 L568.85,225.57 L570.2,225.57 L570.2,229.05 L571.55,229.05 L571.55,228.72 L572.9,228.72 L572.9,231.1 L574.25,231.1 L574.25,230.32 L575.6,230.32 L575.6,233.97 L576.95,233.97 L576.95,233.27 L578.3,233.27 L578.3,234.34 L579.65,234.34 L579.65,236.58 L581,236.58 L581,238.82 L582.35,238.82 L582.35,237.53 L583.7,237.53 L583.7,239.93 L585.05,239.93 L585.05,240.57 L586.4,240.57 L586.4,244.77 L587.75,244.77 L587.75,243 L589.1,243 L589.1,243.7 L590.45,243.7 L590.45,244.93 L591.8,244.93 L591.8,245.5 L593.15,245.5 L592,245.5 Z"/></clipPath><clipPath id="cbn"><path d="M420,148 H677 V246 H420 Z M440,245.5 L440,220 L441.35,220 L441.35,205.87 L442.7,205.87 L442.7,195.8 L444.05,195.8 L444.05,189.42 L445.4,189.42 L445.4,188.03 L446.75,188.03 L446.75,193.06 L448.1,193.06 L448.1,191.72 L449.45,191.72 L449.45,196.43 L450.8,196.43 L450.8,198.33 L452.15,198.33 L452.15,199.25 L453.5,199.25 L453.5,203.35 L454.85,203.35 L454.85,202.57 L456.2,202.57 L456.2,203.55 L457.55,203.55 L457.55,203.2 L458.9,203.2 L458.9,203.21 L460.25,203.21 L460.25,204.58 L461.6,204.58 L461.6,203.15 L462.95,203.15 L462.95,204.14 L464.3,204.14 L464.3,207.95 L465.65,207.95 L465.65,204.06 L467,204.06 L467,206.85 L468.35,206.85 L468.35,207.16 L469.7,207.16 L469.7,207.2 L471.05,207.2 L471.05,205.68 L472.4,205.68 L472.4,206.72 L473.75,206.72 L473.75,205.69 L475.1,205.69 L475.1,208.3 L476.45,208.3 L476.45,206.9 L477.8,206.9 L477.8,209.1 L479.15,209.1 L479.15,210.61 L480.5,210.61 L480.5,210.71 L481.85,210.71 L481.85,210.47 L483.2,210.47 L483.2,209.18 L484.55,209.18 L484.55,206.75 L485.9,206.75 L485.9,207.22 L487.25,207.22 L487.25,207.84 L488.6,207.84 L488.6,205.38 L489.95,205.38 L489.95,205.77 L491.3,205.77 L491.3,206.7 L492.65,206.7 L492.65,207.21 L494,207.21 L494,206.48 L495.35,206.48 L495.35,207.92 L496.7,207.92 L496.7,211.4 L498.05,211.4 L498.05,206.89 L499.4,206.89 L499.4,205.77 L500.75,205.77 L500.75,209.86 L502.1,209.86 L502.1,208.95 L503.45,208.95 L503.45,207.14 L504.8,207.14 L504.8,207.04 L506.15,207.04 L506.15,206.79 L507.5,206.79 L507.5,205.36 L508.85,205.36 L508.85,205.92 L510.2,205.92 L510.2,209.04 L511.55,209.04 L511.55,206.59 L512.9,206.59 L512.9,206.01 L514.25,206.01 L514.25,205.1 L515.6,205.1 L515.6,206.06 L516.95,206.06 L516.95,204.23 L518.3,204.23 L518.3,205.88 L519.65,205.88 L519.65,203.24 L521,203.24 L521,204.13 L522.35,204.13 L522.35,203.04 L523.7,203.04 L523.7,204.31 L525.05,204.31 L525.05,210.36 L526.4,210.36 L526.4,205.04 L527.75,205.04 L527.75,201.75 L529.1,201.75 L529.1,205.44 L530.45,205.44 L530.45,202.35 L531.8,202.35 L531.8,201.29 L533.15,201.29 L533.15,203.83 L534.5,203.83 L534.5,202.86 L535.85,202.86 L535.85,199.54 L537.2,199.54 L537.2,197.78 L538.55,197.78 L538.55,197.37 L539.9,197.37 L539.9,198.2 L541.25,198.2 L541.25,198.68 L542.6,198.68 L542.6,195.2 L543.95,195.2 L543.95,195.45 L545.3,195.45 L545.3,192.37 L546.65,192.37 L546.65,192.46 L548,192.46 L548,195.07 L549.35,195.07 L549.35,192.06 L550.7,192.06 L550.7,190.09 L552.05,190.09 L552.05,191.66 L553.4,191.66 L553.4,190.28 L554.75,190.28 L554.75,191.77 L556.1,191.77 L556.1,192.99 L557.45,192.99 L557.45,191.13 L558.8,191.13 L558.8,193.29 L560.15,193.29 L560.15,190.84 L561.5,190.84 L561.5,189.66 L562.85,189.66 L562.85,186.88 L564.2,186.88 L564.2,188.04 L565.55,188.04 L565.55,187.58 L566.9,187.58 L566.9,186.71 L568.25,186.71 L568.25,186.45 L569.6,186.45 L569.6,186.03 L570.95,186.03 L570.95,185.91 L572.3,185.91 L572.3,188.98 L573.65,188.98 L573.65,186.6 L575,186.6 L575,184.95 L576.35,184.95 L576.35,187.35 L577.7,187.35 L577.7,184.75 L579.05,184.75 L579.05,185.04 L580.4,185.04 L580.4,184.66 L581.75,184.66 L581.75,186.95 L583.1,186.95 L583.1,186.44 L584.45,186.44 L584.45,186.06 L585.8,186.06 L585.8,187.68 L587.15,187.68 L587.15,186.78 L588.5,186.78 L588.5,192.03 L589.85,192.03 L589.85,190.68 L591.2,190.68 L591.2,186.77 L592.55,186.77 L592.55,190.11 L593.9,190.11 L593.9,187.68 L595.25,187.68 L595.25,194.6 L596.6,194.6 L596.6,192.62 L597.95,192.62 L597.95,189.6 L599.3,189.6 L599.3,191.14 L600.65,191.14 L600.65,190.26 L602,190.26 L602,193.08 L603.35,193.08 L603.35,195.28 L604.7,195.28 L604.7,194.64 L606.05,194.64 L606.05,195.14 L607.4,195.14 L607.4,196.51 L608.75,196.51 L608.75,195.69 L610.1,195.69 L610.1,196.17 L611.45,196.17 L611.45,197.57 L612.8,197.57 L612.8,198.69 L614.15,198.69 L614.15,197.99 L615.5,197.99 L615.5,198.47 L616.85,198.47 L616.85,199.69 L618.2,199.69 L618.2,202.76 L619.55,202.76 L619.55,207.03 L620.9,207.03 L620.9,205.47 L622.25,205.47 L622.25,203.47 L623.6,203.47 L623.6,207.03 L624.95,207.03 L624.95,208.81 L626.3,208.81 L626.3,207.48 L627.65,207.48 L627.65,207.69 L629,207.69 L629,213.05 L630.35,213.05 L630.35,212.14 L631.7,212.14 L631.7,210.29 L633.05,210.29 L633.05,210.57 L634.4,210.57 L634.4,211.41 L635.75,211.41 L635.75,211.77 L637.1,211.77 L637.1,214.57 L638.45,214.57 L638.45,212.89 L639.8,212.89 L639.8,216.41 L641.15,216.41 L641.15,217.72 L642.5,217.72 L642.5,214.98 L643.85,214.98 L643.85,215.9 L645.2,215.9 L645.2,217.57 L646.55,217.57 L646.55,216.44 L647.9,216.44 L647.9,218.27 L649.25,218.27 L649.25,217.06 L650.6,217.06 L650.6,218.41 L651.95,218.41 L651.95,219.63 L653.3,219.63 L653.3,221.77 L654.65,221.77 L654.65,222.29 L656,222.29 L656,220.84 L657.35,220.84 L657.35,220.95 L658.7,220.95 L658.7,221.8 L660.05,221.8 L660.05,225.32 L661.4,225.32 L661.4,220.56 L662.75,220.56 L662.75,221.19 L664.1,221.19 L664.1,215.68 L665.45,215.68 L665.45,206.12 L666.8,206.12 L666.8,201.22 L668.15,201.22 L668.15,194.46 L669.5,194.46 L669.5,197.75 L670.85,197.75 L670.85,211.17 L672.2,211.17 L672.2,217.67 L673.55,217.67 L673.55,231.52 L674.9,231.52 L674.9,236.85 L676.25,236.85 L676.25,245.5 L677.6,245.5 L676.3,245.5 Z" clip-rule="evenodd"/></clipPath><pattern id="stripes" width="2.7" height="10" patternUnits="userSpaceOnUse"><rect width="1.1" height="10" fill="#000" fill-opacity="0.09"/><rect x="1.6" width="0.7" height="10" fill="#fff" fill-opacity="0.16"/></pattern><pattern id="stripes2" width="4.05" height="10" patternUnits="userSpaceOnUse"><rect width="1.2" height="10" fill="#c03060" fill-opacity="0.35"/><rect x="2.4" width="0.8" height="10" fill="#7a4a90" fill-opacity="0.25"/></pattern></defs>
<path d="M440,245.5 L440,220 L441.35,220 L441.35,205.87 L442.7,205.87 L442.7,195.8 L444.05,195.8 L444.05,189.42 L445.4,189.42 L445.4,188.03 L446.75,188.03 L446.75,193.06 L448.1,193.06 L448.1,191.72 L449.45,191.72 L449.45,196.43 L450.8,196.43 L450.8,198.33 L452.15,198.33 L452.15,199.25 L453.5,199.25 L453.5,203.35 L454.85,203.35 L454.85,202.57 L456.2,202.57 L456.2,203.55 L457.55,203.55 L457.55,203.2 L458.9,203.2 L458.9,203.21 L460.25,203.21 L460.25,204.58 L461.6,204.58 L461.6,203.15 L462.95,203.15 L462.95,204.14 L464.3,204.14 L464.3,207.95 L465.65,207.95 L465.65,204.06 L467,204.06 L467,206.85 L468.35,206.85 L468.35,207.16 L469.7,207.16 L469.7,207.2 L471.05,207.2 L471.05,205.68 L472.4,205.68 L472.4,206.72 L473.75,206.72 L473.75,205.69 L475.1,205.69 L475.1,208.3 L476.45,208.3 L476.45,206.9 L477.8,206.9 L477.8,209.1 L479.15,209.1 L479.15,210.61 L480.5,210.61 L480.5,210.71 L481.85,210.71 L481.85,210.47 L483.2,210.47 L483.2,209.18 L484.55,209.18 L484.55,206.75 L485.9,206.75 L485.9,207.22 L487.25,207.22 L487.25,207.84 L488.6,207.84 L488.6,205.38 L489.95,205.38 L489.95,205.77 L491.3,205.77 L491.3,206.7 L492.65,206.7 L492.65,207.21 L494,207.21 L494,206.48 L495.35,206.48 L495.35,207.92 L496.7,207.92 L496.7,211.4 L498.05,211.4 L498.05,206.89 L499.4,206.89 L499.4,205.77 L500.75,205.77 L500.75,209.86 L502.1,209.86 L502.1,208.95 L503.45,208.95 L503.45,207.14 L504.8,207.14 L504.8,207.04 L506.15,207.04 L506.15,206.79 L507.5,206.79 L507.5,205.36 L508.85,205.36 L508.85,205.92 L510.2,205.92 L510.2,209.04 L511.55,209.04 L511.55,206.59 L512.9,206.59 L512.9,206.01 L514.25,206.01 L514.25,205.1 L515.6,205.1 L515.6,206.06 L516.95,206.06 L516.95,204.23 L518.3,204.23 L518.3,205.88 L519.65,205.88 L519.65,203.24 L521,203.24 L521,204.13 L522.35,204.13 L522.35,203.04 L523.7,203.04 L523.7,204.31 L525.05,204.31 L525.05,210.36 L526.4,210.36 L526.4,205.04 L527.75,205.04 L527.75,201.75 L529.1,201.75 L529.1,205.44 L530.45,205.44 L530.45,202.35 L531.8,202.35 L531.8,201.29 L533.15,201.29 L533.15,203.83 L534.5,203.83 L534.5,202.86 L535.85,202.86 L535.85,199.54 L537.2,199.54 L537.2,197.78 L538.55,197.78 L538.55,197.37 L539.9,197.37 L539.9,198.2 L541.25,198.2 L541.25,198.68 L542.6,198.68 L542.6,195.2 L543.95,195.2 L543.95,195.45 L545.3,195.45 L545.3,192.37 L546.65,192.37 L546.65,192.46 L548,192.46 L548,195.07 L549.35,195.07 L549.35,192.06 L550.7,192.06 L550.7,190.09 L552.05,190.09 L552.05,191.66 L553.4,191.66 L553.4,190.28 L554.75,190.28 L554.75,191.77 L556.1,191.77 L556.1,192.99 L557.45,192.99 L557.45,191.13 L558.8,191.13 L558.8,193.29 L560.15,193.29 L560.15,190.84 L561.5,190.84 L561.5,189.66 L562.85,189.66 L562.85,186.88 L564.2,186.88 L564.2,188.04 L565.55,188.04 L565.55,187.58 L566.9,187.58 L566.9,186.71 L568.25,186.71 L568.25,186.45 L569.6,186.45 L569.6,186.03 L570.95,186.03 L570.95,185.91 L572.3,185.91 L572.3,188.98 L573.65,188.98 L573.65,186.6 L575,186.6 L575,184.95 L576.35,184.95 L576.35,187.35 L577.7,187.35 L577.7,184.75 L579.05,184.75 L579.05,185.04 L580.4,185.04 L580.4,184.66 L581.75,184.66 L581.75,186.95 L583.1,186.95 L583.1,186.44 L584.45,186.44 L584.45,186.06 L585.8,186.06 L585.8,187.68 L587.15,187.68 L587.15,186.78 L588.5,186.78 L588.5,192.03 L589.85,192.03 L589.85,190.68 L591.2,190.68 L591.2,186.77 L592.55,186.77 L592.55,190.11 L593.9,190.11 L593.9,187.68 L595.25,187.68 L595.25,194.6 L596.6,194.6 L596.6,192.62 L597.95,192.62 L597.95,189.6 L599.3,189.6 L599.3,191.14 L600.65,191.14 L600.65,190.26 L602,190.26 L602,193.08 L603.35,193.08 L603.35,195.28 L604.7,195.28 L604.7,194.64 L606.05,194.64 L606.05,195.14 L607.4,195.14 L607.4,196.51 L608.75,196.51 L608.75,195.69 L610.1,195.69 L610.1,196.17 L611.45,196.17 L611.45,197.57 L612.8,197.57 L612.8,198.69 L614.15,198.69 L614.15,197.99 L615.5,197.99 L615.5,198.47 L616.85,198.47 L616.85,199.69 L618.2,199.69 L618.2,202.76 L619.55,202.76 L619.55,207.03 L620.9,207.03 L620.9,205.47 L622.25,205.47 L622.25,203.47 L623.6,203.47 L623.6,207.03 L624.95,207.03 L624.95,208.81 L626.3,208.81 L626.3,207.48 L627.65,207.48 L627.65,207.69 L629,207.69 L629,213.05 L630.35,213.05 L630.35,212.14 L631.7,212.14 L631.7,210.29 L633.05,210.29 L633.05,210.57 L634.4,210.57 L634.4,211.41 L635.75,211.41 L635.75,211.77 L637.1,211.77 L637.1,214.57 L638.45,214.57 L638.45,212.89 L639.8,212.89 L639.8,216.41 L641.15,216.41 L641.15,217.72 L642.5,217.72 L642.5,214.98 L643.85,214.98 L643.85,215.9 L645.2,215.9 L645.2,217.57 L646.55,217.57 L646.55,216.44 L647.9,216.44 L647.9,218.27 L649.25,218.27 L649.25,217.06 L650.6,217.06 L650.6,218.41 L651.95,218.41 L651.95,219.63 L653.3,219.63 L653.3,221.77 L654.65,221.77 L654.65,222.29 L656,222.29 L656,220.84 L657.35,220.84 L657.35,220.95 L658.7,220.95 L658.7,221.8 L660.05,221.8 L660.05,225.32 L661.4,225.32 L661.4,220.56 L662.75,220.56 L662.75,221.19 L664.1,221.19 L664.1,215.68 L665.45,215.68 L665.45,206.12 L666.8,206.12 L666.8,201.22 L668.15,201.22 L668.15,194.46 L669.5,194.46 L669.5,197.75 L670.85,197.75 L670.85,211.17 L672.2,211.17 L672.2,217.67 L673.55,217.67 L673.55,231.52 L674.9,231.52 L674.9,236.85 L676.25,236.85 L676.25,245.5 L677.6,245.5 L676.3,245.5 Z" fill="#7b8dca"/>
<path d="M424.4,245.5 L424.4,240.91 L425.75,240.91 L425.75,234.79 L427.1,234.79 L427.1,229.14 L428.45,229.14 L428.45,222.85 L429.8,222.85 L429.8,215.09 L431.15,215.09 L431.15,202.72 L432.5,202.72 L432.5,192.34 L433.85,192.34 L433.85,182.75 L435.2,182.75 L435.2,184.38 L436.55,184.38 L436.55,191.7 L437.9,191.7 L437.9,199.29 L439.25,199.29 L439.25,212.8 L440.6,212.8 L440.6,215.34 L441.95,215.34 L441.95,220.91 L443.3,220.91 L443.3,223.59 L444.65,223.59 L444.65,221.76 L446,221.76 L446,225.01 L447.35,225.01 L447.35,223.34 L448.7,223.34 L448.7,224.04 L450.05,224.04 L450.05,222.74 L451.4,222.74 L451.4,225.37 L452.75,225.37 L452.75,228.78 L454.1,228.78 L454.1,223.93 L455.45,223.93 L455.45,223.55 L456.8,223.55 L456.8,226.01 L458.15,226.01 L458.15,224.02 L459.5,224.02 L459.5,222.19 L460.85,222.19 L460.85,223.9 L462.2,223.9 L462.2,221.68 L463.55,221.68 L463.55,221.33 L464.9,221.33 L464.9,222.05 L466.25,222.05 L466.25,222.1 L467.6,222.1 L467.6,222.03 L468.95,222.03 L468.95,219.9 L470.3,219.9 L470.3,220.34 L471.65,220.34 L471.65,219.49 L473,219.49 L473,220.18 L474.35,220.18 L474.35,218.28 L475.7,218.28 L475.7,217.18 L477.05,217.18 L477.05,219.73 L478.4,219.73 L478.4,217.41 L479.75,217.41 L479.75,218.54 L481.1,218.54 L481.1,216.56 L482.45,216.56 L482.45,215.07 L483.8,215.07 L483.8,215.93 L485.15,215.93 L485.15,215.25 L486.5,215.25 L486.5,216.73 L487.85,216.73 L487.85,215.07 L489.2,215.07 L489.2,211.08 L490.55,211.08 L490.55,208.13 L491.9,208.13 L491.9,208.32 L493.25,208.32 L493.25,203.52 L494.6,203.52 L494.6,204.25 L495.95,204.25 L495.95,202.12 L497.3,202.12 L497.3,200.61 L498.65,200.61 L498.65,199.01 L500,199.01 L500,196.88 L501.35,196.88 L501.35,196.7 L502.7,196.7 L502.7,192.53 L504.05,192.53 L504.05,192.56 L505.4,192.56 L505.4,187.38 L506.75,187.38 L506.75,189.28 L508.1,189.28 L508.1,184.47 L509.45,184.47 L509.45,181.92 L510.8,181.92 L510.8,180.25 L512.15,180.25 L512.15,180.32 L513.5,180.32 L513.5,173.77 L514.85,173.77 L514.85,171.85 L516.2,171.85 L516.2,170.85 L517.55,170.85 L517.55,170.14 L518.9,170.14 L518.9,167.76 L520.25,167.76 L520.25,165.93 L521.6,165.93 L521.6,164.33 L522.95,164.33 L522.95,163.83 L524.3,163.83 L524.3,167.04 L525.65,167.04 L525.65,172.08 L527,172.08 L527,169.71 L528.35,169.71 L528.35,174.03 L529.7,174.03 L529.7,177.9 L531.05,177.9 L531.05,179.7 L532.4,179.7 L532.4,179.59 L533.75,179.59 L533.75,183.15 L535.1,183.15 L535.1,185.97 L536.45,185.97 L536.45,189.71 L537.8,189.71 L537.8,190.64 L539.15,190.64 L539.15,193.42 L540.5,193.42 L540.5,195.58 L541.85,195.58 L541.85,196.32 L543.2,196.32 L543.2,197.45 L544.55,197.45 L544.55,202.73 L545.9,202.73 L545.9,202.11 L547.25,202.11 L547.25,204.39 L548.6,204.39 L548.6,204.26 L549.95,204.26 L549.95,207.51 L551.3,207.51 L551.3,206.7 L552.65,206.7 L552.65,209.71 L554,209.71 L554,211.29 L555.35,211.29 L555.35,211.43 L556.7,211.43 L556.7,214.59 L558.05,214.59 L558.05,214.52 L559.4,214.52 L559.4,215.11 L560.75,215.11 L560.75,217.5 L562.1,217.5 L562.1,218.9 L563.45,218.9 L563.45,220.18 L564.8,220.18 L564.8,222.46 L566.15,222.46 L566.15,226.67 L567.5,226.67 L567.5,226.94 L568.85,226.94 L568.85,225.57 L570.2,225.57 L570.2,229.05 L571.55,229.05 L571.55,228.72 L572.9,228.72 L572.9,231.1 L574.25,231.1 L574.25,230.32 L575.6,230.32 L575.6,233.97 L576.95,233.97 L576.95,233.27 L578.3,233.27 L578.3,234.34 L579.65,234.34 L579.65,236.58 L581,236.58 L581,238.82 L582.35,238.82 L582.35,237.53 L583.7,237.53 L583.7,239.93 L585.05,239.93 L585.05,240.57 L586.4,240.57 L586.4,244.77 L587.75,244.77 L587.75,243 L589.1,243 L589.1,243.7 L590.45,243.7 L590.45,244.93 L591.8,244.93 L591.8,245.5 L593.15,245.5 L592,245.5 Z" fill="#e0808e"/>
<defs><linearGradient id="ovg" gradientUnits="userSpaceOnUse" x1="420" y1="0" x2="600" y2="0"><stop offset="0" stop-color="#9a4678"/><stop offset="0.66" stop-color="#9a4678"/><stop offset="0.8" stop-color="#b03e66"/><stop offset="1" stop-color="#bc3a60"/></linearGradient></defs>
<path d="M440,245.5 L440,220 L441.35,220 L441.35,205.87 L442.7,205.87 L442.7,195.8 L444.05,195.8 L444.05,189.42 L445.4,189.42 L445.4,188.03 L446.75,188.03 L446.75,193.06 L448.1,193.06 L448.1,191.72 L449.45,191.72 L449.45,196.43 L450.8,196.43 L450.8,198.33 L452.15,198.33 L452.15,199.25 L453.5,199.25 L453.5,203.35 L454.85,203.35 L454.85,202.57 L456.2,202.57 L456.2,203.55 L457.55,203.55 L457.55,203.2 L458.9,203.2 L458.9,203.21 L460.25,203.21 L460.25,204.58 L461.6,204.58 L461.6,203.15 L462.95,203.15 L462.95,204.14 L464.3,204.14 L464.3,207.95 L465.65,207.95 L465.65,204.06 L467,204.06 L467,206.85 L468.35,206.85 L468.35,207.16 L469.7,207.16 L469.7,207.2 L471.05,207.2 L471.05,205.68 L472.4,205.68 L472.4,206.72 L473.75,206.72 L473.75,205.69 L475.1,205.69 L475.1,208.3 L476.45,208.3 L476.45,206.9 L477.8,206.9 L477.8,209.1 L479.15,209.1 L479.15,210.61 L480.5,210.61 L480.5,210.71 L481.85,210.71 L481.85,210.47 L483.2,210.47 L483.2,209.18 L484.55,209.18 L484.55,206.75 L485.9,206.75 L485.9,207.22 L487.25,207.22 L487.25,207.84 L488.6,207.84 L488.6,205.38 L489.95,205.38 L489.95,205.77 L491.3,205.77 L491.3,206.7 L492.65,206.7 L492.65,207.21 L494,207.21 L494,206.48 L495.35,206.48 L495.35,207.92 L496.7,207.92 L496.7,211.4 L498.05,211.4 L498.05,206.89 L499.4,206.89 L499.4,205.77 L500.75,205.77 L500.75,209.86 L502.1,209.86 L502.1,208.95 L503.45,208.95 L503.45,207.14 L504.8,207.14 L504.8,207.04 L506.15,207.04 L506.15,206.79 L507.5,206.79 L507.5,205.36 L508.85,205.36 L508.85,205.92 L510.2,205.92 L510.2,209.04 L511.55,209.04 L511.55,206.59 L512.9,206.59 L512.9,206.01 L514.25,206.01 L514.25,205.1 L515.6,205.1 L515.6,206.06 L516.95,206.06 L516.95,204.23 L518.3,204.23 L518.3,205.88 L519.65,205.88 L519.65,203.24 L521,203.24 L521,204.13 L522.35,204.13 L522.35,203.04 L523.7,203.04 L523.7,204.31 L525.05,204.31 L525.05,210.36 L526.4,210.36 L526.4,205.04 L527.75,205.04 L527.75,201.75 L529.1,201.75 L529.1,205.44 L530.45,205.44 L530.45,202.35 L531.8,202.35 L531.8,201.29 L533.15,201.29 L533.15,203.83 L534.5,203.83 L534.5,202.86 L535.85,202.86 L535.85,199.54 L537.2,199.54 L537.2,197.78 L538.55,197.78 L538.55,197.37 L539.9,197.37 L539.9,198.2 L541.25,198.2 L541.25,198.68 L542.6,198.68 L542.6,195.2 L543.95,195.2 L543.95,195.45 L545.3,195.45 L545.3,192.37 L546.65,192.37 L546.65,192.46 L548,192.46 L548,195.07 L549.35,195.07 L549.35,192.06 L550.7,192.06 L550.7,190.09 L552.05,190.09 L552.05,191.66 L553.4,191.66 L553.4,190.28 L554.75,190.28 L554.75,191.77 L556.1,191.77 L556.1,192.99 L557.45,192.99 L557.45,191.13 L558.8,191.13 L558.8,193.29 L560.15,193.29 L560.15,190.84 L561.5,190.84 L561.5,189.66 L562.85,189.66 L562.85,186.88 L564.2,186.88 L564.2,188.04 L565.55,188.04 L565.55,187.58 L566.9,187.58 L566.9,186.71 L568.25,186.71 L568.25,186.45 L569.6,186.45 L569.6,186.03 L570.95,186.03 L570.95,185.91 L572.3,185.91 L572.3,188.98 L573.65,188.98 L573.65,186.6 L575,186.6 L575,184.95 L576.35,184.95 L576.35,187.35 L577.7,187.35 L577.7,184.75 L579.05,184.75 L579.05,185.04 L580.4,185.04 L580.4,184.66 L581.75,184.66 L581.75,186.95 L583.1,186.95 L583.1,186.44 L584.45,186.44 L584.45,186.06 L585.8,186.06 L585.8,187.68 L587.15,187.68 L587.15,186.78 L588.5,186.78 L588.5,192.03 L589.85,192.03 L589.85,190.68 L591.2,190.68 L591.2,186.77 L592.55,186.77 L592.55,190.11 L593.9,190.11 L593.9,187.68 L595.25,187.68 L595.25,194.6 L596.6,194.6 L596.6,192.62 L597.95,192.62 L597.95,189.6 L599.3,189.6 L599.3,191.14 L600.65,191.14 L600.65,190.26 L602,190.26 L602,193.08 L603.35,193.08 L603.35,195.28 L604.7,195.28 L604.7,194.64 L606.05,194.64 L606.05,195.14 L607.4,195.14 L607.4,196.51 L608.75,196.51 L608.75,195.69 L610.1,195.69 L610.1,196.17 L611.45,196.17 L611.45,197.57 L612.8,197.57 L612.8,198.69 L614.15,198.69 L614.15,197.99 L615.5,197.99 L615.5,198.47 L616.85,198.47 L616.85,199.69 L618.2,199.69 L618.2,202.76 L619.55,202.76 L619.55,207.03 L620.9,207.03 L620.9,205.47 L622.25,205.47 L622.25,203.47 L623.6,203.47 L623.6,207.03 L624.95,207.03 L624.95,208.81 L626.3,208.81 L626.3,207.48 L627.65,207.48 L627.65,207.69 L629,207.69 L629,213.05 L630.35,213.05 L630.35,212.14 L631.7,212.14 L631.7,210.29 L633.05,210.29 L633.05,210.57 L634.4,210.57 L634.4,211.41 L635.75,211.41 L635.75,211.77 L637.1,211.77 L637.1,214.57 L638.45,214.57 L638.45,212.89 L639.8,212.89 L639.8,216.41 L641.15,216.41 L641.15,217.72 L642.5,217.72 L642.5,214.98 L643.85,214.98 L643.85,215.9 L645.2,215.9 L645.2,217.57 L646.55,217.57 L646.55,216.44 L647.9,216.44 L647.9,218.27 L649.25,218.27 L649.25,217.06 L650.6,217.06 L650.6,218.41 L651.95,218.41 L651.95,219.63 L653.3,219.63 L653.3,221.77 L654.65,221.77 L654.65,222.29 L656,222.29 L656,220.84 L657.35,220.84 L657.35,220.95 L658.7,220.95 L658.7,221.8 L660.05,221.8 L660.05,225.32 L661.4,225.32 L661.4,220.56 L662.75,220.56 L662.75,221.19 L664.1,221.19 L664.1,215.68 L665.45,215.68 L665.45,206.12 L666.8,206.12 L666.8,201.22 L668.15,201.22 L668.15,194.46 L669.5,194.46 L669.5,197.75 L670.85,197.75 L670.85,211.17 L672.2,211.17 L672.2,217.67 L673.55,217.67 L673.55,231.52 L674.9,231.52 L674.9,236.85 L676.25,236.85 L676.25,245.5 L677.6,245.5 L676.3,245.5 Z" fill="url(#ovg)" clip-path="url(#cr)"/>
<path d="M440,245.5 L440,220 L441.35,220 L441.35,205.87 L442.7,205.87 L442.7,195.8 L444.05,195.8 L444.05,189.42 L445.4,189.42 L445.4,188.03 L446.75,188.03 L446.75,193.06 L448.1,193.06 L448.1,191.72 L449.45,191.72 L449.45,196.43 L450.8,196.43 L450.8,198.33 L452.15,198.33 L452.15,199.25 L453.5,199.25 L453.5,203.35 L454.85,203.35 L454.85,202.57 L456.2,202.57 L456.2,203.55 L457.55,203.55 L457.55,203.2 L458.9,203.2 L458.9,203.21 L460.25,203.21 L460.25,204.58 L461.6,204.58 L461.6,203.15 L462.95,203.15 L462.95,204.14 L464.3,204.14 L464.3,207.95 L465.65,207.95 L465.65,204.06 L467,204.06 L467,206.85 L468.35,206.85 L468.35,207.16 L469.7,207.16 L469.7,207.2 L471.05,207.2 L471.05,205.68 L472.4,205.68 L472.4,206.72 L473.75,206.72 L473.75,205.69 L475.1,205.69 L475.1,208.3 L476.45,208.3 L476.45,206.9 L477.8,206.9 L477.8,209.1 L479.15,209.1 L479.15,210.61 L480.5,210.61 L480.5,210.71 L481.85,210.71 L481.85,210.47 L483.2,210.47 L483.2,209.18 L484.55,209.18 L484.55,206.75 L485.9,206.75 L485.9,207.22 L487.25,207.22 L487.25,207.84 L488.6,207.84 L488.6,205.38 L489.95,205.38 L489.95,205.77 L491.3,205.77 L491.3,206.7 L492.65,206.7 L492.65,207.21 L494,207.21 L494,206.48 L495.35,206.48 L495.35,207.92 L496.7,207.92 L496.7,211.4 L498.05,211.4 L498.05,206.89 L499.4,206.89 L499.4,205.77 L500.75,205.77 L500.75,209.86 L502.1,209.86 L502.1,208.95 L503.45,208.95 L503.45,207.14 L504.8,207.14 L504.8,207.04 L506.15,207.04 L506.15,206.79 L507.5,206.79 L507.5,205.36 L508.85,205.36 L508.85,205.92 L510.2,205.92 L510.2,209.04 L511.55,209.04 L511.55,206.59 L512.9,206.59 L512.9,206.01 L514.25,206.01 L514.25,205.1 L515.6,205.1 L515.6,206.06 L516.95,206.06 L516.95,204.23 L518.3,204.23 L518.3,205.88 L519.65,205.88 L519.65,203.24 L521,203.24 L521,204.13 L522.35,204.13 L522.35,203.04 L523.7,203.04 L523.7,204.31 L525.05,204.31 L525.05,210.36 L526.4,210.36 L526.4,205.04 L527.75,205.04 L527.75,201.75 L529.1,201.75 L529.1,205.44 L530.45,205.44 L530.45,202.35 L531.8,202.35 L531.8,201.29 L533.15,201.29 L533.15,203.83 L534.5,203.83 L534.5,202.86 L535.85,202.86 L535.85,199.54 L537.2,199.54 L537.2,197.78 L538.55,197.78 L538.55,197.37 L539.9,197.37 L539.9,198.2 L541.25,198.2 L541.25,198.68 L542.6,198.68 L542.6,195.2 L543.95,195.2 L543.95,195.45 L545.3,195.45 L545.3,192.37 L546.65,192.37 L546.65,192.46 L548,192.46 L548,195.07 L549.35,195.07 L549.35,192.06 L550.7,192.06 L550.7,190.09 L552.05,190.09 L552.05,191.66 L553.4,191.66 L553.4,190.28 L554.75,190.28 L554.75,191.77 L556.1,191.77 L556.1,192.99 L557.45,192.99 L557.45,191.13 L558.8,191.13 L558.8,193.29 L560.15,193.29 L560.15,190.84 L561.5,190.84 L561.5,189.66 L562.85,189.66 L562.85,186.88 L564.2,186.88 L564.2,188.04 L565.55,188.04 L565.55,187.58 L566.9,187.58 L566.9,186.71 L568.25,186.71 L568.25,186.45 L569.6,186.45 L569.6,186.03 L570.95,186.03 L570.95,185.91 L572.3,185.91 L572.3,188.98 L573.65,188.98 L573.65,186.6 L575,186.6 L575,184.95 L576.35,184.95 L576.35,187.35 L577.7,187.35 L577.7,184.75 L579.05,184.75 L579.05,185.04 L580.4,185.04 L580.4,184.66 L581.75,184.66 L581.75,186.95 L583.1,186.95 L583.1,186.44 L584.45,186.44 L584.45,186.06 L585.8,186.06 L585.8,187.68 L587.15,187.68 L587.15,186.78 L588.5,186.78 L588.5,192.03 L589.85,192.03 L589.85,190.68 L591.2,190.68 L591.2,186.77 L592.55,186.77 L592.55,190.11 L593.9,190.11 L593.9,187.68 L595.25,187.68 L595.25,194.6 L596.6,194.6 L596.6,192.62 L597.95,192.62 L597.95,189.6 L599.3,189.6 L599.3,191.14 L600.65,191.14 L600.65,190.26 L602,190.26 L602,193.08 L603.35,193.08 L603.35,195.28 L604.7,195.28 L604.7,194.64 L606.05,194.64 L606.05,195.14 L607.4,195.14 L607.4,196.51 L608.75,196.51 L608.75,195.69 L610.1,195.69 L610.1,196.17 L611.45,196.17 L611.45,197.57 L612.8,197.57 L612.8,198.69 L614.15,198.69 L614.15,197.99 L615.5,197.99 L615.5,198.47 L616.85,198.47 L616.85,199.69 L618.2,199.69 L618.2,202.76 L619.55,202.76 L619.55,207.03 L620.9,207.03 L620.9,205.47 L622.25,205.47 L622.25,203.47 L623.6,203.47 L623.6,207.03 L624.95,207.03 L624.95,208.81 L626.3,208.81 L626.3,207.48 L627.65,207.48 L627.65,207.69 L629,207.69 L629,213.05 L630.35,213.05 L630.35,212.14 L631.7,212.14 L631.7,210.29 L633.05,210.29 L633.05,210.57 L634.4,210.57 L634.4,211.41 L635.75,211.41 L635.75,211.77 L637.1,211.77 L637.1,214.57 L638.45,214.57 L638.45,212.89 L639.8,212.89 L639.8,216.41 L641.15,216.41 L641.15,217.72 L642.5,217.72 L642.5,214.98 L643.85,214.98 L643.85,215.9 L645.2,215.9 L645.2,217.57 L646.55,217.57 L646.55,216.44 L647.9,216.44 L647.9,218.27 L649.25,218.27 L649.25,217.06 L650.6,217.06 L650.6,218.41 L651.95,218.41 L651.95,219.63 L653.3,219.63 L653.3,221.77 L654.65,221.77 L654.65,222.29 L656,222.29 L656,220.84 L657.35,220.84 L657.35,220.95 L658.7,220.95 L658.7,221.8 L660.05,221.8 L660.05,225.32 L661.4,225.32 L661.4,220.56 L662.75,220.56 L662.75,221.19 L664.1,221.19 L664.1,215.68 L665.45,215.68 L665.45,206.12 L666.8,206.12 L666.8,201.22 L668.15,201.22 L668.15,194.46 L669.5,194.46 L669.5,197.75 L670.85,197.75 L670.85,211.17 L672.2,211.17 L672.2,217.67 L673.55,217.67 L673.55,231.52 L674.9,231.52 L674.9,236.85 L676.25,236.85 L676.25,245.5 L677.6,245.5 L676.3,245.5 Z" fill="url(#stripes2)" clip-path="url(#cr)"/>
<path d="M444.5,245.5 L444.5,245.5 L445.85,245.5 L445.85,240.47 L447.2,240.47 L447.2,237.13 L448.55,237.13 L448.55,234.96 L449.9,234.96 L449.9,233.23 L451.25,233.23 L451.25,229.88 L452.6,229.88 L452.6,226.16 L453.95,226.16 L453.95,224.21 L455.3,224.21 L455.3,224.2 L456.65,224.2 L456.65,221.84 L458,221.84 L458,217.61 L459.35,217.61 L459.35,215.95 L460.7,215.95 L460.7,211.25 L462.05,211.25 L462.05,213.53 L463.4,213.53 L463.4,210.67 L464.75,210.67 L464.75,207.68 L466.1,207.68 L466.1,210.99 L467.45,210.99 L467.45,209.4 L468.8,209.4 L468.8,211.3 L470.15,211.3 L470.15,213.39 L471.5,213.39 L471.5,217.51 L472.85,217.51 L472.85,219.34 L474.2,219.34 L474.2,221.95 L475.55,221.95 L475.55,223.64 L476.9,223.64 L476.9,227.45 L478.25,227.45 L478.25,228.6 L479.6,228.6 L479.6,232.86 L480.95,232.86 L480.95,234.49 L482.3,234.49 L482.3,238.98 L483.65,238.98 L483.65,239.53 L485,239.53 L485,242.07 L486.35,242.07 L486.35,245.5 L487.7,245.5 L487,245.5 Z" fill="#c8702c" fill-opacity="0.55"/>
<path d="M444.5,245.5 L444.5,245.5 L445.85,245.5 L445.85,240.47 L447.2,240.47 L447.2,237.13 L448.55,237.13 L448.55,234.96 L449.9,234.96 L449.9,233.23 L451.25,233.23 L451.25,229.88 L452.6,229.88 L452.6,226.16 L453.95,226.16 L453.95,224.21 L455.3,224.21 L455.3,224.2 L456.65,224.2 L456.65,221.84 L458,221.84 L458,217.61 L459.35,217.61 L459.35,215.95 L460.7,215.95 L460.7,211.25 L462.05,211.25 L462.05,213.53 L463.4,213.53 L463.4,210.67 L464.75,210.67 L464.75,207.68 L466.1,207.68 L466.1,210.99 L467.45,210.99 L467.45,209.4 L468.8,209.4 L468.8,211.3 L470.15,211.3 L470.15,213.39 L471.5,213.39 L471.5,217.51 L472.85,217.51 L472.85,219.34 L474.2,219.34 L474.2,221.95 L475.55,221.95 L475.55,223.64 L476.9,223.64 L476.9,227.45 L478.25,227.45 L478.25,228.6 L479.6,228.6 L479.6,232.86 L480.95,232.86 L480.95,234.49 L482.3,234.49 L482.3,238.98 L483.65,238.98 L483.65,239.53 L485,239.53 L485,242.07 L486.35,242.07 L486.35,245.5 L487.7,245.5 L487,245.5 Z" fill="url(#stripes2)"/>
<path d="M440,245.5 L440,220 L441.35,220 L441.35,205.87 L442.7,205.87 L442.7,195.8 L444.05,195.8 L444.05,189.42 L445.4,189.42 L445.4,188.03 L446.75,188.03 L446.75,193.06 L448.1,193.06 L448.1,191.72 L449.45,191.72 L449.45,196.43 L450.8,196.43 L450.8,198.33 L452.15,198.33 L452.15,199.25 L453.5,199.25 L453.5,203.35 L454.85,203.35 L454.85,202.57 L456.2,202.57 L456.2,203.55 L457.55,203.55 L457.55,203.2 L458.9,203.2 L458.9,203.21 L460.25,203.21 L460.25,204.58 L461.6,204.58 L461.6,203.15 L462.95,203.15 L462.95,204.14 L464.3,204.14 L464.3,207.95 L465.65,207.95 L465.65,204.06 L467,204.06 L467,206.85 L468.35,206.85 L468.35,207.16 L469.7,207.16 L469.7,207.2 L471.05,207.2 L471.05,205.68 L472.4,205.68 L472.4,206.72 L473.75,206.72 L473.75,205.69 L475.1,205.69 L475.1,208.3 L476.45,208.3 L476.45,206.9 L477.8,206.9 L477.8,209.1 L479.15,209.1 L479.15,210.61 L480.5,210.61 L480.5,210.71 L481.85,210.71 L481.85,210.47 L483.2,210.47 L483.2,209.18 L484.55,209.18 L484.55,206.75 L485.9,206.75 L485.9,207.22 L487.25,207.22 L487.25,207.84 L488.6,207.84 L488.6,205.38 L489.95,205.38 L489.95,205.77 L491.3,205.77 L491.3,206.7 L492.65,206.7 L492.65,207.21 L494,207.21 L494,206.48 L495.35,206.48 L495.35,207.92 L496.7,207.92 L496.7,211.4 L498.05,211.4 L498.05,206.89 L499.4,206.89 L499.4,205.77 L500.75,205.77 L500.75,209.86 L502.1,209.86 L502.1,208.95 L503.45,208.95 L503.45,207.14 L504.8,207.14 L504.8,207.04 L506.15,207.04 L506.15,206.79 L507.5,206.79 L507.5,205.36 L508.85,205.36 L508.85,205.92 L510.2,205.92 L510.2,209.04 L511.55,209.04 L511.55,206.59 L512.9,206.59 L512.9,206.01 L514.25,206.01 L514.25,205.1 L515.6,205.1 L515.6,206.06 L516.95,206.06 L516.95,204.23 L518.3,204.23 L518.3,205.88 L519.65,205.88 L519.65,203.24 L521,203.24 L521,204.13 L522.35,204.13 L522.35,203.04 L523.7,203.04 L523.7,204.31 L525.05,204.31 L525.05,210.36 L526.4,210.36 L526.4,205.04 L527.75,205.04 L527.75,201.75 L529.1,201.75 L529.1,205.44 L530.45,205.44 L530.45,202.35 L531.8,202.35 L531.8,201.29 L533.15,201.29 L533.15,203.83 L534.5,203.83 L534.5,202.86 L535.85,202.86 L535.85,199.54 L537.2,199.54 L537.2,197.78 L538.55,197.78 L538.55,197.37 L539.9,197.37 L539.9,198.2 L541.25,198.2 L541.25,198.68 L542.6,198.68 L542.6,195.2 L543.95,195.2 L543.95,195.45 L545.3,195.45 L545.3,192.37 L546.65,192.37 L546.65,192.46 L548,192.46 L548,195.07 L549.35,195.07 L549.35,192.06 L550.7,192.06 L550.7,190.09 L552.05,190.09 L552.05,191.66 L553.4,191.66 L553.4,190.28 L554.75,190.28 L554.75,191.77 L556.1,191.77 L556.1,192.99 L557.45,192.99 L557.45,191.13 L558.8,191.13 L558.8,193.29 L560.15,193.29 L560.15,190.84 L561.5,190.84 L561.5,189.66 L562.85,189.66 L562.85,186.88 L564.2,186.88 L564.2,188.04 L565.55,188.04 L565.55,187.58 L566.9,187.58 L566.9,186.71 L568.25,186.71 L568.25,186.45 L569.6,186.45 L569.6,186.03 L570.95,186.03 L570.95,185.91 L572.3,185.91 L572.3,188.98 L573.65,188.98 L573.65,186.6 L575,186.6 L575,184.95 L576.35,184.95 L576.35,187.35 L577.7,187.35 L577.7,184.75 L579.05,184.75 L579.05,185.04 L580.4,185.04 L580.4,184.66 L581.75,184.66 L581.75,186.95 L583.1,186.95 L583.1,186.44 L584.45,186.44 L584.45,186.06 L585.8,186.06 L585.8,187.68 L587.15,187.68 L587.15,186.78 L588.5,186.78 L588.5,192.03 L589.85,192.03 L589.85,190.68 L591.2,190.68 L591.2,186.77 L592.55,186.77 L592.55,190.11 L593.9,190.11 L593.9,187.68 L595.25,187.68 L595.25,194.6 L596.6,194.6 L596.6,192.62 L597.95,192.62 L597.95,189.6 L599.3,189.6 L599.3,191.14 L600.65,191.14 L600.65,190.26 L602,190.26 L602,193.08 L603.35,193.08 L603.35,195.28 L604.7,195.28 L604.7,194.64 L606.05,194.64 L606.05,195.14 L607.4,195.14 L607.4,196.51 L608.75,196.51 L608.75,195.69 L610.1,195.69 L610.1,196.17 L611.45,196.17 L611.45,197.57 L612.8,197.57 L612.8,198.69 L614.15,198.69 L614.15,197.99 L615.5,197.99 L615.5,198.47 L616.85,198.47 L616.85,199.69 L618.2,199.69 L618.2,202.76 L619.55,202.76 L619.55,207.03 L620.9,207.03 L620.9,205.47 L622.25,205.47 L622.25,203.47 L623.6,203.47 L623.6,207.03 L624.95,207.03 L624.95,208.81 L626.3,208.81 L626.3,207.48 L627.65,207.48 L627.65,207.69 L629,207.69 L629,213.05 L630.35,213.05 L630.35,212.14 L631.7,212.14 L631.7,210.29 L633.05,210.29 L633.05,210.57 L634.4,210.57 L634.4,211.41 L635.75,211.41 L635.75,211.77 L637.1,211.77 L637.1,214.57 L638.45,214.57 L638.45,212.89 L639.8,212.89 L639.8,216.41 L641.15,216.41 L641.15,217.72 L642.5,217.72 L642.5,214.98 L643.85,214.98 L643.85,215.9 L645.2,215.9 L645.2,217.57 L646.55,217.57 L646.55,216.44 L647.9,216.44 L647.9,218.27 L649.25,218.27 L649.25,217.06 L650.6,217.06 L650.6,218.41 L651.95,218.41 L651.95,219.63 L653.3,219.63 L653.3,221.77 L654.65,221.77 L654.65,222.29 L656,222.29 L656,220.84 L657.35,220.84 L657.35,220.95 L658.7,220.95 L658.7,221.8 L660.05,221.8 L660.05,225.32 L661.4,225.32 L661.4,220.56 L662.75,220.56 L662.75,221.19 L664.1,221.19 L664.1,215.68 L665.45,215.68 L665.45,206.12 L666.8,206.12 L666.8,201.22 L668.15,201.22 L668.15,194.46 L669.5,194.46 L669.5,197.75 L670.85,197.75 L670.85,211.17 L672.2,211.17 L672.2,217.67 L673.55,217.67 L673.55,231.52 L674.9,231.52 L674.9,236.85 L676.25,236.85 L676.25,245.5 L677.6,245.5 L676.3,245.5 Z" fill="url(#stripes)"/>
<path d="M424.4,245.5 L424.4,240.91 L425.75,240.91 L425.75,234.79 L427.1,234.79 L427.1,229.14 L428.45,229.14 L428.45,222.85 L429.8,222.85 L429.8,215.09 L431.15,215.09 L431.15,202.72 L432.5,202.72 L432.5,192.34 L433.85,192.34 L433.85,182.75 L435.2,182.75 L435.2,184.38 L436.55,184.38 L436.55,191.7 L437.9,191.7 L437.9,199.29 L439.25,199.29 L439.25,212.8 L440.6,212.8 L440.6,215.34 L441.95,215.34 L441.95,220.91 L443.3,220.91 L443.3,223.59 L444.65,223.59 L444.65,221.76 L446,221.76 L446,225.01 L447.35,225.01 L447.35,223.34 L448.7,223.34 L448.7,224.04 L450.05,224.04 L450.05,222.74 L451.4,222.74 L451.4,225.37 L452.75,225.37 L452.75,228.78 L454.1,228.78 L454.1,223.93 L455.45,223.93 L455.45,223.55 L456.8,223.55 L456.8,226.01 L458.15,226.01 L458.15,224.02 L459.5,224.02 L459.5,222.19 L460.85,222.19 L460.85,223.9 L462.2,223.9 L462.2,221.68 L463.55,221.68 L463.55,221.33 L464.9,221.33 L464.9,222.05 L466.25,222.05 L466.25,222.1 L467.6,222.1 L467.6,222.03 L468.95,222.03 L468.95,219.9 L470.3,219.9 L470.3,220.34 L471.65,220.34 L471.65,219.49 L473,219.49 L473,220.18 L474.35,220.18 L474.35,218.28 L475.7,218.28 L475.7,217.18 L477.05,217.18 L477.05,219.73 L478.4,219.73 L478.4,217.41 L479.75,217.41 L479.75,218.54 L481.1,218.54 L481.1,216.56 L482.45,216.56 L482.45,215.07 L483.8,215.07 L483.8,215.93 L485.15,215.93 L485.15,215.25 L486.5,215.25 L486.5,216.73 L487.85,216.73 L487.85,215.07 L489.2,215.07 L489.2,211.08 L490.55,211.08 L490.55,208.13 L491.9,208.13 L491.9,208.32 L493.25,208.32 L493.25,203.52 L494.6,203.52 L494.6,204.25 L495.95,204.25 L495.95,202.12 L497.3,202.12 L497.3,200.61 L498.65,200.61 L498.65,199.01 L500,199.01 L500,196.88 L501.35,196.88 L501.35,196.7 L502.7,196.7 L502.7,192.53 L504.05,192.53 L504.05,192.56 L505.4,192.56 L505.4,187.38 L506.75,187.38 L506.75,189.28 L508.1,189.28 L508.1,184.47 L509.45,184.47 L509.45,181.92 L510.8,181.92 L510.8,180.25 L512.15,180.25 L512.15,180.32 L513.5,180.32 L513.5,173.77 L514.85,173.77 L514.85,171.85 L516.2,171.85 L516.2,170.85 L517.55,170.85 L517.55,170.14 L518.9,170.14 L518.9,167.76 L520.25,167.76 L520.25,165.93 L521.6,165.93 L521.6,164.33 L522.95,164.33 L522.95,163.83 L524.3,163.83 L524.3,167.04 L525.65,167.04 L525.65,172.08 L527,172.08 L527,169.71 L528.35,169.71 L528.35,174.03 L529.7,174.03 L529.7,177.9 L531.05,177.9 L531.05,179.7 L532.4,179.7 L532.4,179.59 L533.75,179.59 L533.75,183.15 L535.1,183.15 L535.1,185.97 L536.45,185.97 L536.45,189.71 L537.8,189.71 L537.8,190.64 L539.15,190.64 L539.15,193.42 L540.5,193.42 L540.5,195.58 L541.85,195.58 L541.85,196.32 L543.2,196.32 L543.2,197.45 L544.55,197.45 L544.55,202.73 L545.9,202.73 L545.9,202.11 L547.25,202.11 L547.25,204.39 L548.6,204.39 L548.6,204.26 L549.95,204.26 L549.95,207.51 L551.3,207.51 L551.3,206.7 L552.65,206.7 L552.65,209.71 L554,209.71 L554,211.29 L555.35,211.29 L555.35,211.43 L556.7,211.43 L556.7,214.59 L558.05,214.59 L558.05,214.52 L559.4,214.52 L559.4,215.11 L560.75,215.11 L560.75,217.5 L562.1,217.5 L562.1,218.9 L563.45,218.9 L563.45,220.18 L564.8,220.18 L564.8,222.46 L566.15,222.46 L566.15,226.67 L567.5,226.67 L567.5,226.94 L568.85,226.94 L568.85,225.57 L570.2,225.57 L570.2,229.05 L571.55,229.05 L571.55,228.72 L572.9,228.72 L572.9,231.1 L574.25,231.1 L574.25,230.32 L575.6,230.32 L575.6,233.97 L576.95,233.97 L576.95,233.27 L578.3,233.27 L578.3,234.34 L579.65,234.34 L579.65,236.58 L581,236.58 L581,238.82 L582.35,238.82 L582.35,237.53 L583.7,237.53 L583.7,239.93 L585.05,239.93 L585.05,240.57 L586.4,240.57 L586.4,244.77 L587.75,244.77 L587.75,243 L589.1,243 L589.1,243.7 L590.45,243.7 L590.45,244.93 L591.8,244.93 L591.8,245.5 L593.15,245.5 L592,245.5 Z" fill="url(#stripes)" clip-path="url(#cbn)"/>
<rect x="535" y="148.3" width="7.2" height="97.2" fill="#888" fill-opacity="0.5"/>
<line x1="466.3" y1="160" x2="466.3" y2="245.5" stroke="#f4b050" stroke-width="1.0" />
<rect x="464.9" y="197.5" width="2.8" height="12" fill="#f0b050" fill-opacity="0.75"/>
<line x1="593.2" y1="210.2" x2="593.2" y2="245.5" stroke="#b88a50" stroke-width="1.1" />
<line x1="634.2" y1="211.2" x2="634.2" y2="245.5" stroke="#b88a50" stroke-width="1.1" />
<line x1="649.9" y1="221" x2="649.9" y2="245.5" stroke="#c8304e" stroke-width="1.2" />
<rect x="420.5" y="148.5" width="256" height="97" fill="none" stroke="#555" stroke-width="1"/>
<text x="0" y="0" font-size="10.3" fill="#231f20" text-anchor="middle" font-weight="normal" transform="translate(411.3,325) rotate(-90)">Power (20 dB/div)</text>
<rect x="421.5" y="288.5" width="255" height="68" fill="none" stroke="#555" stroke-width="1"/>
<line x1="418.2" y1="288.5" x2="421.5" y2="288.5" stroke="#555" stroke-width="1" />
<line x1="418.2" y1="322.5" x2="421.5" y2="322.5" stroke="#555" stroke-width="1" />
<line x1="418.2" y1="356.5" x2="421.5" y2="356.5" stroke="#555" stroke-width="1" />
<line x1="421.5" y1="356.5" x2="421.5" y2="359.5" stroke="#555" stroke-width="1" />
<line x1="453.5" y1="356.5" x2="453.5" y2="359.5" stroke="#555" stroke-width="1" />
<line x1="485.5" y1="356.5" x2="485.5" y2="359.5" stroke="#555" stroke-width="1" />
<line x1="517.5" y1="356.5" x2="517.5" y2="359.5" stroke="#555" stroke-width="1" />
<line x1="548.5" y1="356.5" x2="548.5" y2="359.5" stroke="#555" stroke-width="1" />
<line x1="580.5" y1="356.5" x2="580.5" y2="359.5" stroke="#555" stroke-width="1" />
<line x1="612.5" y1="356.5" x2="612.5" y2="359.5" stroke="#555" stroke-width="1" />
<line x1="644.5" y1="356.5" x2="644.5" y2="359.5" stroke="#555" stroke-width="1" />
<line x1="676.5" y1="356.5" x2="676.5" y2="359.5" stroke="#555" stroke-width="1" />
<line x1="434.6" y1="295.7" x2="434.6" y2="356.5" stroke="#e05a74" stroke-width="1.2" />
<line x1="466.6" y1="294.9" x2="466.6" y2="356.5" stroke="#e05a74" stroke-width="1.2" />
<line x1="498.6" y1="298.9" x2="498.6" y2="356.5" stroke="#e05a74" stroke-width="1.2" />
<line x1="530" y1="300" x2="530" y2="356.5" stroke="#e05a74" stroke-width="1.2" />
<line x1="561.6" y1="305.1" x2="561.6" y2="356.5" stroke="#e05a74" stroke-width="1.2" />
<line x1="593.6" y1="305.1" x2="593.6" y2="356.5" stroke="#e05a74" stroke-width="1.2" />
<line x1="625" y1="306.3" x2="625" y2="356.5" stroke="#e05a74" stroke-width="1.2" />
<line x1="657" y1="306.3" x2="657" y2="356.5" stroke="#e05a74" stroke-width="1.2" />
<line x1="443.4" y1="307.7" x2="443.4" y2="356.5" stroke="#4a64b8" stroke-width="1.2" />
<line x1="475.1" y1="307.7" x2="475.1" y2="356.5" stroke="#4a64b8" stroke-width="1.2" />
<line x1="507.1" y1="307.4" x2="507.1" y2="356.5" stroke="#4a64b8" stroke-width="1.2" />
<line x1="538.6" y1="308" x2="538.6" y2="356.5" stroke="#4a64b8" stroke-width="1.2" />
<line x1="570.7" y1="305.1" x2="570.7" y2="356.5" stroke="#4a64b8" stroke-width="1.2" />
<line x1="602.7" y1="304.3" x2="602.7" y2="356.5" stroke="#4a64b8" stroke-width="1.2" />
<line x1="634.1" y1="306.6" x2="634.1" y2="356.5" stroke="#4a64b8" stroke-width="1.2" />
<line x1="665.6" y1="306.3" x2="665.6" y2="356.5" stroke="#4a64b8" stroke-width="1.2" />
<text x="493.4" y="373.4" font-size="10.3" fill="#231f20" text-anchor="start" font-weight="normal" >Frequency (20 GHz/div)</text>
<text x="559" y="297.3" font-size="10.3" fill="#231f20" text-anchor="start" font-weight="normal" >f</text>
<text x="562.2" y="300.6" font-size="7" fill="#231f20" text-anchor="start" font-weight="normal" >beat</text>
<line x1="563" y1="307.7" x2="569.5" y2="307.7" stroke="#222" stroke-width="0.9" />
<polygon points="562.2,307.7 564.8,306.4 564.8,309" fill="#222"/>
<polygon points="570.3,307.7 567.7,309 567.7,306.4" fill="#222"/>
</svg></body></html>
